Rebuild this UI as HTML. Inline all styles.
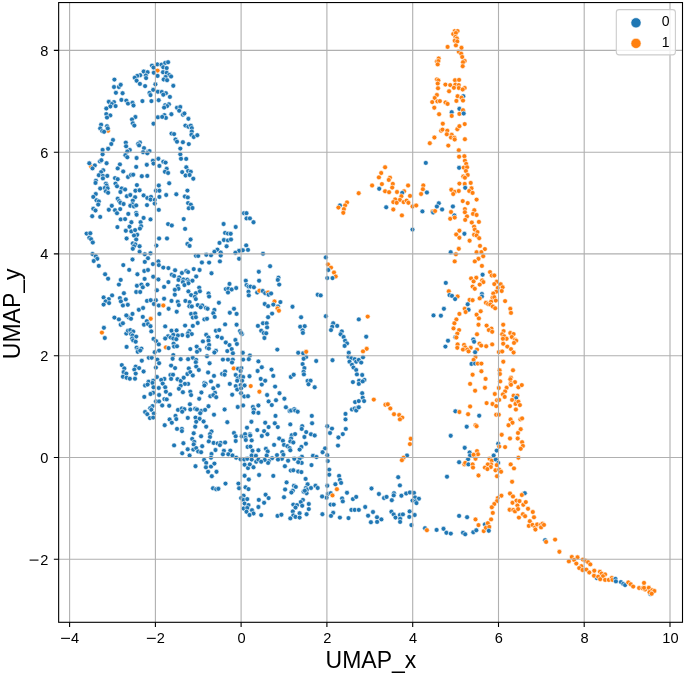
<!DOCTYPE html><html><head><meta charset="utf-8"><style>html,body{margin:0;padding:0;background:#fff;}svg{display:block;will-change:transform;}text{font-family:"Liberation Sans",sans-serif;fill:#000;}</style></head><body>
<svg width="685" height="676" viewBox="0 0 685 676">
<rect width="685" height="676" fill="#fff"/>
<g fill="#ff7f0e" stroke="#fff" stroke-width="0.6"><circle cx="108.1" cy="130.7" r="2.45"/><circle cx="91.1" cy="166.6" r="2.45"/><circle cx="165.9" cy="347.4" r="2.45"/></g>
<g fill="#1f77b4" stroke="#fff" stroke-width="0.6"><circle cx="152.0" cy="65.6" r="2.45"/><circle cx="157.3" cy="64.4" r="2.45"/><circle cx="153.5" cy="67.6" r="2.45"/></g>
<g fill="#ff7f0e" stroke="#fff" stroke-width="0.6"><circle cx="157.6" cy="70.6" r="2.45"/></g>
<g fill="#1f77b4" stroke="#fff" stroke-width="0.6"><circle cx="153.8" cy="72.7" r="2.45"/><circle cx="157.6" cy="75.9" r="2.45"/><circle cx="143.7" cy="71.5" r="2.45"/><circle cx="147.6" cy="72.2" r="2.45"/><circle cx="145.8" cy="75.5" r="2.45"/><circle cx="146.1" cy="78.1" r="2.45"/><circle cx="140.2" cy="75.2" r="2.45"/><circle cx="137.2" cy="75.9" r="2.45"/><circle cx="134.7" cy="77.7" r="2.45"/><circle cx="136.6" cy="80.7" r="2.45"/><circle cx="139.9" cy="83.9" r="2.45"/><circle cx="145.1" cy="86.1" r="2.45"/><circle cx="155.4" cy="84.3" r="2.45"/><circle cx="114.4" cy="79.6" r="2.45"/><circle cx="114.0" cy="87.0" r="2.45"/><circle cx="118.9" cy="87.0" r="2.45"/><circle cx="120.7" cy="84.8" r="2.45"/><circle cx="115.9" cy="92.8" r="2.45"/><circle cx="122.6" cy="93.2" r="2.45"/><circle cx="149.5" cy="92.9" r="2.45"/><circle cx="153.2" cy="89.8" r="2.45"/><circle cx="150.5" cy="95.1" r="2.45"/><circle cx="157.9" cy="91.7" r="2.45"/><circle cx="121.4" cy="99.9" r="2.45"/><circle cx="126.3" cy="100.6" r="2.45"/><circle cx="128.0" cy="103.6" r="2.45"/><circle cx="132.5" cy="102.8" r="2.45"/><circle cx="133.5" cy="105.5" r="2.45"/><circle cx="142.4" cy="101.1" r="2.45"/><circle cx="151.4" cy="101.1" r="2.45"/><circle cx="158.7" cy="100.2" r="2.45"/><circle cx="108.8" cy="101.8" r="2.45"/><circle cx="114.0" cy="102.1" r="2.45"/><circle cx="111.8" cy="104.0" r="2.45"/><circle cx="110.3" cy="106.5" r="2.45"/><circle cx="115.6" cy="106.1" r="2.45"/><circle cx="106.3" cy="108.5" r="2.45"/><circle cx="106.3" cy="114.1" r="2.45"/><circle cx="110.3" cy="115.4" r="2.45"/><circle cx="107.0" cy="117.6" r="2.45"/><circle cx="135.4" cy="117.0" r="2.45"/><circle cx="132.0" cy="119.4" r="2.45"/><circle cx="157.9" cy="117.3" r="2.45"/><circle cx="161.5" cy="64.7" r="2.45"/><circle cx="165.2" cy="62.9" r="2.45"/><circle cx="168.1" cy="62.2" r="2.45"/><circle cx="163.3" cy="67.3" r="2.45"/><circle cx="166.7" cy="68.1" r="2.45"/><circle cx="163.0" cy="72.2" r="2.45"/><circle cx="166.7" cy="72.8" r="2.45"/><circle cx="169.2" cy="75.0" r="2.45"/><circle cx="171.1" cy="76.5" r="2.45"/><circle cx="165.6" cy="77.0" r="2.45"/><circle cx="163.7" cy="79.5" r="2.45"/><circle cx="167.1" cy="80.2" r="2.45"/><circle cx="173.3" cy="85.8" r="2.45"/><circle cx="161.8" cy="92.0" r="2.45"/><circle cx="165.9" cy="93.2" r="2.45"/><circle cx="163.3" cy="94.7" r="2.45"/><circle cx="169.9" cy="96.9" r="2.45"/><circle cx="165.2" cy="105.1" r="2.45"/><circle cx="168.9" cy="104.3" r="2.45"/><circle cx="167.1" cy="106.1" r="2.45"/><circle cx="164.1" cy="107.6" r="2.45"/><circle cx="177.0" cy="107.7" r="2.45"/><circle cx="180.3" cy="107.0" r="2.45"/><circle cx="179.2" cy="110.7" r="2.45"/><circle cx="171.4" cy="114.2" r="2.45"/><circle cx="164.4" cy="115.1" r="2.45"/><circle cx="165.9" cy="117.9" r="2.45"/><circle cx="162.2" cy="116.9" r="2.45"/><circle cx="182.9" cy="114.7" r="2.45"/><circle cx="184.4" cy="113.5" r="2.45"/><circle cx="188.4" cy="118.8" r="2.45"/></g>
<g fill="#ff7f0e" stroke="#fff" stroke-width="0.6"><circle cx="454.7" cy="31.1" r="2.45"/><circle cx="457.6" cy="31.1" r="2.45"/><circle cx="453.2" cy="34.1" r="2.45"/><circle cx="455.9" cy="33.0" r="2.45"/><circle cx="455.4" cy="37.0" r="2.45"/><circle cx="456.9" cy="38.5" r="2.45"/><circle cx="454.7" cy="40.7" r="2.45"/><circle cx="457.3" cy="41.4" r="2.45"/><circle cx="455.9" cy="45.4" r="2.45"/><circle cx="447.6" cy="46.9" r="2.45"/><circle cx="458.8" cy="51.8" r="2.45"/><circle cx="438.7" cy="58.5" r="2.45"/><circle cx="436.9" cy="61.4" r="2.45"/><circle cx="438.4" cy="61.1" r="2.45"/><circle cx="437.7" cy="64.4" r="2.45"/><circle cx="436.9" cy="79.5" r="2.45"/><circle cx="438.4" cy="80.4" r="2.45"/><circle cx="437.7" cy="83.6" r="2.45"/><circle cx="438.0" cy="88.3" r="2.45"/><circle cx="445.4" cy="84.6" r="2.45"/><circle cx="450.2" cy="85.1" r="2.45"/><circle cx="455.0" cy="80.2" r="2.45"/><circle cx="459.1" cy="79.9" r="2.45"/><circle cx="455.4" cy="84.6" r="2.45"/><circle cx="458.8" cy="85.1" r="2.45"/><circle cx="453.9" cy="87.8" r="2.45"/><circle cx="458.8" cy="88.0" r="2.45"/><circle cx="449.1" cy="91.3" r="2.45"/><circle cx="436.9" cy="95.0" r="2.45"/><circle cx="434.7" cy="98.0" r="2.45"/><circle cx="432.2" cy="102.1" r="2.45"/><circle cx="437.4" cy="101.4" r="2.45"/><circle cx="439.9" cy="101.1" r="2.45"/><circle cx="445.5" cy="102.5" r="2.45"/><circle cx="447.6" cy="103.9" r="2.45"/><circle cx="457.6" cy="96.2" r="2.45"/><circle cx="456.4" cy="100.9" r="2.45"/><circle cx="434.3" cy="107.7" r="2.45"/><circle cx="439.1" cy="114.2" r="2.45"/></g>
<g fill="#1f77b4" stroke="#fff" stroke-width="0.6"><circle cx="451.7" cy="112.2" r="2.45"/></g>
<g fill="#ff7f0e" stroke="#fff" stroke-width="0.6"><circle cx="451.7" cy="115.9" r="2.45"/></g>
<g fill="#1f77b4" stroke="#fff" stroke-width="0.6"><circle cx="459.4" cy="108.8" r="2.45"/></g>
<g fill="#ff7f0e" stroke="#fff" stroke-width="0.6"><circle cx="459.4" cy="113.9" r="2.45"/><circle cx="461.5" cy="47.8" r="2.45"/><circle cx="461.2" cy="53.7" r="2.45"/><circle cx="462.2" cy="57.0" r="2.45"/><circle cx="464.7" cy="61.0" r="2.45"/><circle cx="463.0" cy="62.2" r="2.45"/><circle cx="462.7" cy="66.2" r="2.45"/><circle cx="464.7" cy="88.0" r="2.45"/><circle cx="462.7" cy="89.5" r="2.45"/></g>
<g fill="#1f77b4" stroke="#fff" stroke-width="0.6"><circle cx="463.3" cy="96.2" r="2.45"/></g>
<g fill="#ff7f0e" stroke="#fff" stroke-width="0.6"><circle cx="461.5" cy="97.7" r="2.45"/><circle cx="463.0" cy="100.6" r="2.45"/><circle cx="463.0" cy="110.2" r="2.45"/></g>
<g fill="#1f77b4" stroke="#fff" stroke-width="0.6"><circle cx="463.7" cy="113.5" r="2.45"/><circle cx="101.1" cy="124.7" r="2.45"/><circle cx="107.0" cy="126.2" r="2.45"/><circle cx="100.2" cy="128.4" r="2.45"/><circle cx="107.8" cy="128.4" r="2.45"/><circle cx="102.2" cy="131.1" r="2.45"/><circle cx="104.1" cy="131.8" r="2.45"/><circle cx="132.8" cy="123.3" r="2.45"/><circle cx="134.3" cy="125.6" r="2.45"/><circle cx="153.5" cy="123.7" r="2.45"/><circle cx="113.0" cy="140.0" r="2.45"/><circle cx="111.3" cy="144.0" r="2.45"/><circle cx="108.1" cy="148.8" r="2.45"/><circle cx="102.6" cy="149.9" r="2.45"/><circle cx="102.6" cy="154.3" r="2.45"/><circle cx="125.8" cy="142.6" r="2.45"/><circle cx="126.1" cy="146.3" r="2.45"/><circle cx="129.8" cy="150.0" r="2.45"/><circle cx="127.3" cy="151.5" r="2.45"/><circle cx="139.9" cy="142.5" r="2.45"/><circle cx="138.1" cy="144.0" r="2.45"/><circle cx="139.1" cy="145.4" r="2.45"/><circle cx="144.0" cy="148.1" r="2.45"/><circle cx="143.1" cy="152.2" r="2.45"/><circle cx="148.0" cy="151.8" r="2.45"/><circle cx="149.5" cy="151.1" r="2.45"/><circle cx="147.3" cy="153.3" r="2.45"/><circle cx="125.4" cy="155.2" r="2.45"/><circle cx="127.3" cy="157.3" r="2.45"/><circle cx="136.6" cy="158.0" r="2.45"/><circle cx="89.3" cy="163.3" r="2.45"/><circle cx="94.8" cy="165.4" r="2.45"/><circle cx="92.5" cy="168.4" r="2.45"/><circle cx="99.9" cy="161.4" r="2.45"/><circle cx="101.4" cy="160.2" r="2.45"/><circle cx="106.6" cy="163.2" r="2.45"/><circle cx="119.9" cy="164.4" r="2.45"/><circle cx="117.7" cy="168.4" r="2.45"/><circle cx="136.2" cy="166.9" r="2.45"/><circle cx="146.8" cy="164.8" r="2.45"/><circle cx="152.9" cy="160.7" r="2.45"/><circle cx="153.5" cy="163.6" r="2.45"/><circle cx="158.4" cy="158.8" r="2.45"/><circle cx="159.4" cy="165.9" r="2.45"/><circle cx="103.2" cy="170.3" r="2.45"/><circle cx="101.1" cy="172.1" r="2.45"/><circle cx="123.2" cy="171.5" r="2.45"/><circle cx="98.8" cy="175.2" r="2.45"/><circle cx="102.9" cy="175.9" r="2.45"/><circle cx="107.3" cy="175.9" r="2.45"/><circle cx="102.9" cy="178.4" r="2.45"/><circle cx="115.0" cy="178.1" r="2.45"/><circle cx="117.7" cy="179.2" r="2.45"/><circle cx="128.0" cy="177.0" r="2.45"/><circle cx="131.0" cy="175.0" r="2.45"/><circle cx="133.2" cy="174.7" r="2.45"/><circle cx="141.8" cy="176.2" r="2.45"/><circle cx="147.3" cy="175.9" r="2.45"/><circle cx="95.9" cy="180.7" r="2.45"/><circle cx="95.5" cy="182.9" r="2.45"/><circle cx="105.9" cy="183.6" r="2.45"/><circle cx="106.6" cy="185.5" r="2.45"/><circle cx="115.5" cy="183.6" r="2.45"/><circle cx="117.0" cy="186.3" r="2.45"/><circle cx="104.8" cy="188.0" r="2.45"/><circle cx="107.6" cy="188.3" r="2.45"/><circle cx="100.2" cy="188.5" r="2.45"/><circle cx="136.9" cy="185.1" r="2.45"/><circle cx="121.7" cy="188.5" r="2.45"/><circle cx="125.1" cy="189.5" r="2.45"/><circle cx="120.4" cy="192.0" r="2.45"/><circle cx="135.4" cy="190.7" r="2.45"/><circle cx="139.6" cy="190.3" r="2.45"/><circle cx="158.8" cy="185.5" r="2.45"/><circle cx="155.9" cy="190.7" r="2.45"/><circle cx="159.4" cy="190.7" r="2.45"/><circle cx="105.9" cy="191.3" r="2.45"/><circle cx="108.1" cy="192.8" r="2.45"/><circle cx="95.8" cy="194.0" r="2.45"/><circle cx="93.3" cy="196.9" r="2.45"/><circle cx="96.5" cy="200.3" r="2.45"/><circle cx="98.8" cy="201.4" r="2.45"/><circle cx="98.2" cy="204.6" r="2.45"/><circle cx="126.9" cy="196.2" r="2.45"/><circle cx="130.3" cy="195.0" r="2.45"/><circle cx="135.1" cy="197.2" r="2.45"/><circle cx="143.6" cy="195.4" r="2.45"/><circle cx="147.3" cy="198.0" r="2.45"/><circle cx="151.0" cy="196.9" r="2.45"/><circle cx="150.5" cy="199.6" r="2.45"/><circle cx="154.7" cy="199.9" r="2.45"/><circle cx="159.4" cy="196.9" r="2.45"/><circle cx="117.7" cy="198.7" r="2.45"/><circle cx="119.2" cy="201.1" r="2.45"/><circle cx="120.4" cy="202.8" r="2.45"/><circle cx="123.6" cy="204.0" r="2.45"/><circle cx="132.8" cy="200.6" r="2.45"/><circle cx="132.5" cy="204.3" r="2.45"/><circle cx="130.3" cy="205.8" r="2.45"/><circle cx="134.0" cy="206.5" r="2.45"/><circle cx="136.2" cy="205.4" r="2.45"/><circle cx="147.0" cy="205.1" r="2.45"/><circle cx="154.7" cy="203.6" r="2.45"/><circle cx="111.8" cy="205.8" r="2.45"/><circle cx="108.8" cy="209.8" r="2.45"/><circle cx="115.0" cy="210.2" r="2.45"/><circle cx="117.0" cy="213.2" r="2.45"/><circle cx="120.2" cy="209.1" r="2.45"/><circle cx="93.3" cy="208.8" r="2.45"/><circle cx="95.5" cy="210.5" r="2.45"/><circle cx="158.8" cy="209.9" r="2.45"/><circle cx="92.2" cy="216.2" r="2.45"/><circle cx="100.2" cy="216.9" r="2.45"/><circle cx="128.3" cy="213.9" r="2.45"/><circle cx="136.2" cy="212.9" r="2.45"/><circle cx="136.6" cy="214.7" r="2.45"/><circle cx="143.6" cy="217.9" r="2.45"/><circle cx="120.7" cy="219.4" r="2.45"/><circle cx="125.1" cy="219.1" r="2.45"/><circle cx="150.5" cy="219.4" r="2.45"/><circle cx="185.4" cy="125.6" r="2.45"/><circle cx="188.4" cy="126.7" r="2.45"/><circle cx="190.8" cy="125.6" r="2.45"/><circle cx="191.8" cy="128.1" r="2.45"/><circle cx="191.8" cy="131.5" r="2.45"/><circle cx="191.4" cy="134.8" r="2.45"/><circle cx="193.7" cy="137.0" r="2.45"/><circle cx="197.3" cy="135.2" r="2.45"/><circle cx="171.5" cy="133.6" r="2.45"/><circle cx="174.1" cy="134.1" r="2.45"/><circle cx="175.5" cy="139.5" r="2.45"/><circle cx="177.0" cy="141.7" r="2.45"/><circle cx="182.9" cy="142.2" r="2.45"/><circle cx="188.8" cy="144.1" r="2.45"/><circle cx="180.3" cy="148.6" r="2.45"/><circle cx="180.3" cy="154.3" r="2.45"/><circle cx="181.0" cy="158.8" r="2.45"/><circle cx="186.2" cy="158.9" r="2.45"/><circle cx="163.3" cy="161.7" r="2.45"/><circle cx="165.6" cy="162.6" r="2.45"/><circle cx="166.7" cy="168.8" r="2.45"/><circle cx="164.9" cy="171.8" r="2.45"/><circle cx="168.1" cy="173.0" r="2.45"/><circle cx="186.3" cy="167.3" r="2.45"/><circle cx="188.1" cy="171.0" r="2.45"/><circle cx="190.8" cy="171.8" r="2.45"/><circle cx="182.2" cy="172.1" r="2.45"/><circle cx="185.6" cy="175.5" r="2.45"/><circle cx="189.6" cy="175.0" r="2.45"/><circle cx="193.3" cy="178.7" r="2.45"/><circle cx="169.2" cy="183.3" r="2.45"/><circle cx="166.2" cy="195.0" r="2.45"/><circle cx="176.3" cy="194.3" r="2.45"/><circle cx="187.4" cy="190.6" r="2.45"/><circle cx="184.9" cy="196.5" r="2.45"/><circle cx="187.8" cy="197.4" r="2.45"/><circle cx="188.1" cy="203.1" r="2.45"/><circle cx="190.8" cy="204.6" r="2.45"/><circle cx="188.8" cy="208.3" r="2.45"/><circle cx="192.5" cy="208.0" r="2.45"/><circle cx="183.7" cy="219.1" r="2.45"/><circle cx="244.0" cy="213.2" r="2.45"/><circle cx="246.5" cy="213.2" r="2.45"/><circle cx="246.5" cy="218.4" r="2.45"/><circle cx="249.9" cy="218.4" r="2.45"/></g>
<g fill="#ff7f0e" stroke="#fff" stroke-width="0.6"><circle cx="358.7" cy="193.2" r="2.45"/><circle cx="347.0" cy="202.4" r="2.45"/><circle cx="345.1" cy="205.4" r="2.45"/></g>
<g fill="#1f77b4" stroke="#fff" stroke-width="0.6"><circle cx="339.9" cy="205.4" r="2.45"/></g>
<g fill="#ff7f0e" stroke="#fff" stroke-width="0.6"><circle cx="338.4" cy="207.6" r="2.45"/><circle cx="343.9" cy="209.1" r="2.45"/><circle cx="343.3" cy="212.8" r="2.45"/><circle cx="442.8" cy="123.7" r="2.45"/><circle cx="441.1" cy="130.7" r="2.45"/><circle cx="442.5" cy="129.6" r="2.45"/><circle cx="447.3" cy="130.7" r="2.45"/><circle cx="446.8" cy="134.3" r="2.45"/><circle cx="451.7" cy="134.8" r="2.45"/><circle cx="451.0" cy="137.5" r="2.45"/><circle cx="454.4" cy="137.8" r="2.45"/><circle cx="454.7" cy="139.5" r="2.45"/><circle cx="457.3" cy="129.2" r="2.45"/><circle cx="459.4" cy="126.2" r="2.45"/><circle cx="434.4" cy="137.5" r="2.45"/><circle cx="429.8" cy="143.2" r="2.45"/><circle cx="448.3" cy="145.6" r="2.45"/><circle cx="458.8" cy="150.3" r="2.45"/><circle cx="459.1" cy="156.7" r="2.45"/></g>
<g fill="#1f77b4" stroke="#fff" stroke-width="0.6"><circle cx="425.8" cy="162.9" r="2.45"/><circle cx="459.1" cy="167.8" r="2.45"/></g>
<g fill="#ff7f0e" stroke="#fff" stroke-width="0.6"><circle cx="385.1" cy="167.3" r="2.45"/><circle cx="381.2" cy="173.0" r="2.45"/><circle cx="378.9" cy="177.4" r="2.45"/><circle cx="390.0" cy="177.7" r="2.45"/><circle cx="388.8" cy="179.9" r="2.45"/><circle cx="381.9" cy="184.1" r="2.45"/><circle cx="372.1" cy="185.5" r="2.45"/><circle cx="392.8" cy="183.9" r="2.45"/><circle cx="392.2" cy="187.6" r="2.45"/></g>
<g fill="#1f77b4" stroke="#fff" stroke-width="0.6"><circle cx="379.2" cy="188.8" r="2.45"/></g>
<g fill="#ff7f0e" stroke="#fff" stroke-width="0.6"><circle cx="385.1" cy="191.3" r="2.45"/><circle cx="389.1" cy="192.2" r="2.45"/><circle cx="397.0" cy="192.0" r="2.45"/><circle cx="404.1" cy="191.3" r="2.45"/></g>
<g fill="#1f77b4" stroke="#fff" stroke-width="0.6"><circle cx="402.2" cy="192.9" r="2.45"/></g>
<g fill="#ff7f0e" stroke="#fff" stroke-width="0.6"><circle cx="408.1" cy="185.5" r="2.45"/><circle cx="410.0" cy="195.9" r="2.45"/><circle cx="401.4" cy="196.2" r="2.45"/><circle cx="399.9" cy="199.9" r="2.45"/><circle cx="395.2" cy="199.4" r="2.45"/><circle cx="393.3" cy="202.1" r="2.45"/><circle cx="396.7" cy="202.8" r="2.45"/><circle cx="403.6" cy="202.1" r="2.45"/><circle cx="406.6" cy="200.6" r="2.45"/><circle cx="408.4" cy="202.8" r="2.45"/><circle cx="423.3" cy="185.4" r="2.45"/><circle cx="422.9" cy="189.2" r="2.45"/><circle cx="421.1" cy="194.0" r="2.45"/></g>
<g fill="#1f77b4" stroke="#fff" stroke-width="0.6"><circle cx="426.9" cy="192.5" r="2.45"/></g>
<g fill="#ff7f0e" stroke="#fff" stroke-width="0.6"><circle cx="459.4" cy="183.6" r="2.45"/><circle cx="451.3" cy="189.8" r="2.45"/><circle cx="454.7" cy="192.0" r="2.45"/><circle cx="453.2" cy="194.0" r="2.45"/><circle cx="458.8" cy="191.0" r="2.45"/><circle cx="412.5" cy="206.5" r="2.45"/><circle cx="416.2" cy="205.5" r="2.45"/></g>
<g fill="#1f77b4" stroke="#fff" stroke-width="0.6"><circle cx="386.2" cy="207.3" r="2.45"/></g>
<g fill="#ff7f0e" stroke="#fff" stroke-width="0.6"><circle cx="393.3" cy="209.5" r="2.45"/><circle cx="401.9" cy="215.4" r="2.45"/></g>
<g fill="#1f77b4" stroke="#fff" stroke-width="0.6"><circle cx="422.4" cy="211.4" r="2.45"/></g>
<g fill="#ff7f0e" stroke="#fff" stroke-width="0.6"><circle cx="432.5" cy="211.4" r="2.45"/></g>
<g fill="#1f77b4" stroke="#fff" stroke-width="0.6"><circle cx="433.2" cy="212.5" r="2.45"/></g>
<g fill="#ff7f0e" stroke="#fff" stroke-width="0.6"><circle cx="435.1" cy="211.0" r="2.45"/></g>
<g fill="#1f77b4" stroke="#fff" stroke-width="0.6"><circle cx="438.8" cy="203.3" r="2.45"/><circle cx="436.9" cy="206.5" r="2.45"/><circle cx="442.1" cy="209.5" r="2.45"/><circle cx="452.9" cy="206.5" r="2.45"/></g>
<g fill="#ff7f0e" stroke="#fff" stroke-width="0.6"><circle cx="451.0" cy="212.0" r="2.45"/></g>
<g fill="#1f77b4" stroke="#fff" stroke-width="0.6"><circle cx="454.4" cy="215.4" r="2.45"/></g>
<g fill="#ff7f0e" stroke="#fff" stroke-width="0.6"><circle cx="450.2" cy="218.8" r="2.45"/><circle cx="454.7" cy="217.6" r="2.45"/><circle cx="464.7" cy="124.1" r="2.45"/><circle cx="464.9" cy="139.2" r="2.45"/><circle cx="464.4" cy="156.2" r="2.45"/><circle cx="464.9" cy="160.7" r="2.45"/><circle cx="466.2" cy="163.9" r="2.45"/><circle cx="463.7" cy="167.6" r="2.45"/><circle cx="467.1" cy="167.3" r="2.45"/><circle cx="465.9" cy="171.0" r="2.45"/><circle cx="467.7" cy="175.0" r="2.45"/><circle cx="463.3" cy="176.5" r="2.45"/><circle cx="464.9" cy="177.7" r="2.45"/><circle cx="470.7" cy="182.9" r="2.45"/><circle cx="464.7" cy="183.9" r="2.45"/></g>
<g fill="#1f77b4" stroke="#fff" stroke-width="0.6"><circle cx="465.2" cy="187.8" r="2.45"/></g>
<g fill="#ff7f0e" stroke="#fff" stroke-width="0.6"><circle cx="471.5" cy="188.3" r="2.45"/><circle cx="469.2" cy="191.0" r="2.45"/><circle cx="472.6" cy="192.9" r="2.45"/><circle cx="476.6" cy="199.6" r="2.45"/><circle cx="462.7" cy="201.1" r="2.45"/><circle cx="467.7" cy="203.1" r="2.45"/><circle cx="464.9" cy="209.1" r="2.45"/><circle cx="474.3" cy="210.2" r="2.45"/><circle cx="464.9" cy="212.2" r="2.45"/><circle cx="473.0" cy="213.9" r="2.45"/><circle cx="476.6" cy="215.0" r="2.45"/><circle cx="467.0" cy="216.4" r="2.45"/><circle cx="465.2" cy="219.9" r="2.45"/></g>
<g fill="#1f77b4" stroke="#fff" stroke-width="0.6"><circle cx="131.4" cy="222.2" r="2.45"/><circle cx="140.6" cy="222.2" r="2.45"/><circle cx="117.4" cy="227.1" r="2.45"/><circle cx="129.5" cy="226.7" r="2.45"/><circle cx="141.1" cy="226.2" r="2.45"/><circle cx="139.9" cy="228.6" r="2.45"/><circle cx="125.8" cy="230.8" r="2.45"/><circle cx="131.3" cy="231.4" r="2.45"/><circle cx="135.1" cy="230.1" r="2.45"/><circle cx="137.2" cy="234.8" r="2.45"/><circle cx="134.0" cy="235.5" r="2.45"/><circle cx="136.2" cy="239.5" r="2.45"/><circle cx="126.6" cy="238.5" r="2.45"/><circle cx="86.6" cy="233.6" r="2.45"/><circle cx="90.3" cy="233.3" r="2.45"/><circle cx="89.3" cy="237.8" r="2.45"/><circle cx="91.1" cy="239.2" r="2.45"/><circle cx="92.8" cy="242.5" r="2.45"/><circle cx="159.1" cy="238.5" r="2.45"/><circle cx="132.8" cy="243.4" r="2.45"/><circle cx="135.4" cy="244.4" r="2.45"/><circle cx="134.0" cy="246.3" r="2.45"/><circle cx="139.6" cy="246.3" r="2.45"/><circle cx="132.8" cy="248.8" r="2.45"/><circle cx="156.4" cy="245.6" r="2.45"/><circle cx="139.6" cy="251.8" r="2.45"/><circle cx="144.8" cy="254.3" r="2.45"/><circle cx="150.5" cy="253.3" r="2.45"/><circle cx="92.5" cy="254.0" r="2.45"/><circle cx="95.8" cy="256.2" r="2.45"/><circle cx="97.3" cy="258.8" r="2.45"/><circle cx="93.7" cy="261.0" r="2.45"/><circle cx="98.8" cy="265.9" r="2.45"/><circle cx="132.5" cy="259.5" r="2.45"/><circle cx="148.0" cy="258.2" r="2.45"/><circle cx="144.8" cy="261.9" r="2.45"/><circle cx="152.9" cy="264.1" r="2.45"/><circle cx="158.4" cy="261.4" r="2.45"/><circle cx="158.8" cy="265.1" r="2.45"/><circle cx="123.3" cy="265.1" r="2.45"/><circle cx="129.2" cy="269.9" r="2.45"/><circle cx="144.3" cy="271.0" r="2.45"/><circle cx="148.0" cy="270.0" r="2.45"/><circle cx="105.1" cy="274.3" r="2.45"/><circle cx="108.1" cy="278.7" r="2.45"/><circle cx="137.4" cy="274.3" r="2.45"/><circle cx="153.2" cy="276.7" r="2.45"/><circle cx="158.4" cy="279.5" r="2.45"/><circle cx="144.6" cy="278.9" r="2.45"/><circle cx="120.7" cy="279.9" r="2.45"/><circle cx="118.9" cy="284.6" r="2.45"/><circle cx="136.9" cy="285.8" r="2.45"/><circle cx="141.4" cy="284.6" r="2.45"/><circle cx="142.8" cy="287.3" r="2.45"/><circle cx="147.6" cy="284.6" r="2.45"/><circle cx="136.2" cy="292.0" r="2.45"/><circle cx="140.2" cy="292.0" r="2.45"/><circle cx="156.9" cy="290.3" r="2.45"/><circle cx="123.9" cy="293.2" r="2.45"/><circle cx="112.1" cy="295.4" r="2.45"/><circle cx="103.6" cy="297.4" r="2.45"/><circle cx="108.8" cy="299.1" r="2.45"/><circle cx="105.6" cy="301.4" r="2.45"/><circle cx="109.1" cy="303.1" r="2.45"/><circle cx="103.6" cy="304.6" r="2.45"/><circle cx="119.9" cy="298.1" r="2.45"/><circle cx="125.8" cy="299.4" r="2.45"/><circle cx="120.9" cy="301.4" r="2.45"/><circle cx="122.9" cy="305.5" r="2.45"/><circle cx="127.8" cy="304.8" r="2.45"/><circle cx="147.0" cy="300.9" r="2.45"/><circle cx="150.7" cy="300.2" r="2.45"/><circle cx="155.9" cy="300.2" r="2.45"/><circle cx="153.9" cy="304.0" r="2.45"/><circle cx="158.8" cy="305.5" r="2.45"/><circle cx="138.8" cy="309.8" r="2.45"/><circle cx="143.1" cy="308.0" r="2.45"/><circle cx="159.4" cy="313.9" r="2.45"/><circle cx="132.5" cy="313.9" r="2.45"/><circle cx="127.3" cy="316.2" r="2.45"/><circle cx="128.8" cy="317.6" r="2.45"/><circle cx="126.3" cy="315.4" r="2.45"/><circle cx="114.4" cy="317.6" r="2.45"/><circle cx="118.9" cy="319.4" r="2.45"/><circle cx="131.0" cy="318.8" r="2.45"/><circle cx="142.8" cy="316.9" r="2.45"/></g>
<g fill="#ff7f0e" stroke="#fff" stroke-width="0.6"><circle cx="150.7" cy="318.8" r="2.45"/></g>
<g fill="#1f77b4" stroke="#fff" stroke-width="0.6"><circle cx="168.1" cy="224.1" r="2.45"/><circle cx="171.8" cy="225.5" r="2.45"/><circle cx="185.1" cy="228.9" r="2.45"/><circle cx="223.6" cy="224.0" r="2.45"/><circle cx="235.7" cy="227.0" r="2.45"/><circle cx="253.5" cy="222.2" r="2.45"/><circle cx="167.0" cy="238.5" r="2.45"/><circle cx="190.6" cy="239.5" r="2.45"/><circle cx="187.4" cy="244.0" r="2.45"/><circle cx="189.6" cy="245.9" r="2.45"/><circle cx="225.1" cy="232.9" r="2.45"/><circle cx="228.0" cy="233.6" r="2.45"/><circle cx="230.7" cy="233.8" r="2.45"/><circle cx="223.9" cy="240.0" r="2.45"/><circle cx="228.0" cy="240.4" r="2.45"/><circle cx="231.0" cy="239.5" r="2.45"/><circle cx="219.5" cy="242.9" r="2.45"/><circle cx="226.6" cy="246.3" r="2.45"/><circle cx="246.2" cy="245.4" r="2.45"/><circle cx="248.0" cy="249.9" r="2.45"/><circle cx="242.8" cy="250.3" r="2.45"/><circle cx="239.1" cy="250.8" r="2.45"/><circle cx="235.4" cy="252.8" r="2.45"/><circle cx="239.1" cy="258.8" r="2.45"/><circle cx="217.4" cy="249.6" r="2.45"/><circle cx="214.4" cy="251.8" r="2.45"/><circle cx="220.7" cy="252.5" r="2.45"/><circle cx="220.7" cy="255.5" r="2.45"/><circle cx="211.0" cy="255.2" r="2.45"/><circle cx="206.3" cy="254.8" r="2.45"/><circle cx="195.9" cy="255.8" r="2.45"/><circle cx="198.2" cy="255.9" r="2.45"/><circle cx="201.9" cy="262.5" r="2.45"/><circle cx="209.1" cy="262.6" r="2.45"/><circle cx="219.9" cy="261.4" r="2.45"/><circle cx="211.5" cy="273.3" r="2.45"/><circle cx="163.3" cy="267.6" r="2.45"/><circle cx="168.4" cy="268.1" r="2.45"/><circle cx="175.1" cy="270.3" r="2.45"/><circle cx="171.8" cy="274.7" r="2.45"/><circle cx="174.1" cy="275.9" r="2.45"/><circle cx="181.9" cy="273.0" r="2.45"/><circle cx="186.3" cy="271.0" r="2.45"/><circle cx="188.1" cy="272.1" r="2.45"/><circle cx="193.7" cy="269.1" r="2.45"/><circle cx="199.6" cy="270.0" r="2.45"/><circle cx="196.2" cy="276.5" r="2.45"/><circle cx="179.2" cy="277.4" r="2.45"/><circle cx="178.5" cy="279.9" r="2.45"/><circle cx="183.4" cy="279.5" r="2.45"/><circle cx="182.9" cy="282.1" r="2.45"/><circle cx="187.4" cy="279.6" r="2.45"/><circle cx="188.8" cy="281.4" r="2.45"/><circle cx="192.5" cy="280.7" r="2.45"/><circle cx="188.4" cy="283.3" r="2.45"/><circle cx="184.4" cy="285.1" r="2.45"/><circle cx="168.4" cy="282.1" r="2.45"/><circle cx="164.1" cy="286.9" r="2.45"/><circle cx="177.8" cy="286.1" r="2.45"/><circle cx="178.5" cy="288.8" r="2.45"/><circle cx="174.8" cy="289.8" r="2.45"/><circle cx="174.8" cy="294.7" r="2.45"/><circle cx="188.4" cy="291.4" r="2.45"/><circle cx="191.1" cy="295.1" r="2.45"/><circle cx="195.9" cy="293.2" r="2.45"/><circle cx="199.2" cy="287.6" r="2.45"/><circle cx="199.9" cy="291.3" r="2.45"/><circle cx="194.8" cy="296.9" r="2.45"/><circle cx="195.8" cy="299.1" r="2.45"/><circle cx="208.5" cy="293.5" r="2.45"/><circle cx="209.1" cy="296.5" r="2.45"/><circle cx="229.5" cy="283.9" r="2.45"/><circle cx="225.8" cy="289.1" r="2.45"/><circle cx="228.3" cy="288.8" r="2.45"/><circle cx="231.7" cy="289.5" r="2.45"/><circle cx="228.0" cy="292.5" r="2.45"/><circle cx="236.2" cy="288.0" r="2.45"/><circle cx="164.1" cy="298.7" r="2.45"/><circle cx="171.5" cy="300.9" r="2.45"/></g>
<g fill="#ff7f0e" stroke="#fff" stroke-width="0.6"><circle cx="163.3" cy="305.5" r="2.45"/></g>
<g fill="#1f77b4" stroke="#fff" stroke-width="0.6"><circle cx="177.8" cy="301.8" r="2.45"/><circle cx="178.8" cy="305.1" r="2.45"/><circle cx="185.4" cy="300.9" r="2.45"/><circle cx="189.6" cy="302.1" r="2.45"/><circle cx="189.3" cy="306.2" r="2.45"/><circle cx="191.8" cy="306.5" r="2.45"/><circle cx="197.7" cy="305.1" r="2.45"/><circle cx="202.2" cy="305.5" r="2.45"/><circle cx="200.7" cy="307.3" r="2.45"/><circle cx="205.9" cy="308.0" r="2.45"/><circle cx="207.6" cy="308.8" r="2.45"/><circle cx="218.9" cy="302.8" r="2.45"/><circle cx="168.6" cy="308.8" r="2.45"/><circle cx="176.7" cy="311.7" r="2.45"/><circle cx="191.1" cy="313.9" r="2.45"/><circle cx="195.2" cy="313.5" r="2.45"/><circle cx="192.8" cy="317.6" r="2.45"/><circle cx="195.9" cy="317.2" r="2.45"/><circle cx="214.4" cy="309.9" r="2.45"/><circle cx="213.3" cy="313.2" r="2.45"/><circle cx="214.7" cy="316.9" r="2.45"/><circle cx="229.8" cy="312.8" r="2.45"/><circle cx="234.0" cy="308.8" r="2.45"/><circle cx="236.6" cy="313.9" r="2.45"/><circle cx="204.4" cy="319.4" r="2.45"/><circle cx="207.0" cy="318.8" r="2.45"/><circle cx="245.8" cy="280.7" r="2.45"/><circle cx="246.5" cy="285.1" r="2.45"/><circle cx="248.5" cy="286.6" r="2.45"/><circle cx="250.5" cy="286.6" r="2.45"/><circle cx="253.9" cy="287.3" r="2.45"/><circle cx="248.5" cy="291.7" r="2.45"/><circle cx="248.8" cy="295.4" r="2.45"/><circle cx="257.2" cy="292.5" r="2.45"/><circle cx="258.8" cy="271.8" r="2.45"/><circle cx="259.1" cy="280.7" r="2.45"/></g>
<g fill="#ff7f0e" stroke="#fff" stroke-width="0.6"><circle cx="259.4" cy="290.7" r="2.45"/></g>
<g fill="#1f77b4" stroke="#fff" stroke-width="0.6"><circle cx="263.0" cy="253.7" r="2.45"/><circle cx="270.1" cy="266.2" r="2.45"/><circle cx="278.5" cy="277.7" r="2.45"/><circle cx="277.8" cy="279.9" r="2.45"/><circle cx="279.2" cy="284.6" r="2.45"/><circle cx="262.7" cy="291.0" r="2.45"/><circle cx="265.2" cy="293.2" r="2.45"/></g>
<g fill="#ff7f0e" stroke="#fff" stroke-width="0.6"><circle cx="268.1" cy="292.5" r="2.45"/></g>
<g fill="#1f77b4" stroke="#fff" stroke-width="0.6"><circle cx="268.6" cy="294.7" r="2.45"/><circle cx="271.1" cy="293.5" r="2.45"/></g>
<g fill="#ff7f0e" stroke="#fff" stroke-width="0.6"><circle cx="274.5" cy="301.4" r="2.45"/></g>
<g fill="#1f77b4" stroke="#fff" stroke-width="0.6"><circle cx="280.4" cy="302.1" r="2.45"/><circle cx="264.7" cy="304.0" r="2.45"/><circle cx="268.1" cy="306.2" r="2.45"/><circle cx="273.3" cy="304.6" r="2.45"/><circle cx="278.0" cy="306.5" r="2.45"/></g>
<g fill="#ff7f0e" stroke="#fff" stroke-width="0.6"><circle cx="277.5" cy="308.5" r="2.45"/><circle cx="278.9" cy="310.7" r="2.45"/></g>
<g fill="#1f77b4" stroke="#fff" stroke-width="0.6"><circle cx="292.5" cy="306.8" r="2.45"/><circle cx="272.1" cy="313.6" r="2.45"/><circle cx="268.1" cy="317.2" r="2.45"/><circle cx="301.1" cy="317.3" r="2.45"/><circle cx="325.8" cy="257.4" r="2.45"/></g>
<g fill="#ff7f0e" stroke="#fff" stroke-width="0.6"><circle cx="328.0" cy="264.4" r="2.45"/><circle cx="331.0" cy="267.6" r="2.45"/></g>
<g fill="#1f77b4" stroke="#fff" stroke-width="0.6"><circle cx="328.3" cy="270.0" r="2.45"/></g>
<g fill="#ff7f0e" stroke="#fff" stroke-width="0.6"><circle cx="334.0" cy="272.5" r="2.45"/><circle cx="335.7" cy="276.5" r="2.45"/></g>
<g fill="#1f77b4" stroke="#fff" stroke-width="0.6"><circle cx="327.3" cy="278.1" r="2.45"/><circle cx="332.5" cy="278.1" r="2.45"/><circle cx="317.7" cy="294.7" r="2.45"/><circle cx="320.7" cy="295.4" r="2.45"/><circle cx="325.8" cy="316.2" r="2.45"/><circle cx="358.8" cy="319.4" r="2.45"/><circle cx="412.5" cy="229.6" r="2.45"/></g>
<g fill="#ff7f0e" stroke="#fff" stroke-width="0.6"><circle cx="459.4" cy="230.7" r="2.45"/><circle cx="456.2" cy="234.5" r="2.45"/><circle cx="459.4" cy="237.8" r="2.45"/><circle cx="458.8" cy="248.8" r="2.45"/></g>
<g fill="#1f77b4" stroke="#fff" stroke-width="0.6"><circle cx="450.7" cy="252.2" r="2.45"/></g>
<g fill="#ff7f0e" stroke="#fff" stroke-width="0.6"><circle cx="455.9" cy="254.3" r="2.45"/><circle cx="454.7" cy="261.4" r="2.45"/></g>
<g fill="#1f77b4" stroke="#fff" stroke-width="0.6"><circle cx="445.8" cy="282.9" r="2.45"/></g>
<g fill="#ff7f0e" stroke="#fff" stroke-width="0.6"><circle cx="448.8" cy="291.3" r="2.45"/></g>
<g fill="#1f77b4" stroke="#fff" stroke-width="0.6"><circle cx="449.5" cy="295.1" r="2.45"/><circle cx="452.0" cy="295.9" r="2.45"/></g>
<g fill="#ff7f0e" stroke="#fff" stroke-width="0.6"><circle cx="457.6" cy="296.5" r="2.45"/></g>
<g fill="#1f77b4" stroke="#fff" stroke-width="0.6"><circle cx="455.1" cy="299.1" r="2.45"/><circle cx="443.9" cy="308.8" r="2.45"/><circle cx="433.5" cy="315.4" r="2.45"/><circle cx="440.9" cy="315.7" r="2.45"/></g>
<g fill="#ff7f0e" stroke="#fff" stroke-width="0.6"><circle cx="367.7" cy="316.6" r="2.45"/><circle cx="459.4" cy="313.9" r="2.45"/><circle cx="456.4" cy="319.4" r="2.45"/><circle cx="471.8" cy="222.5" r="2.45"/><circle cx="478.9" cy="221.9" r="2.45"/><circle cx="474.1" cy="226.7" r="2.45"/><circle cx="474.8" cy="229.6" r="2.45"/><circle cx="477.5" cy="232.1" r="2.45"/></g>
<g fill="#1f77b4" stroke="#fff" stroke-width="0.6"><circle cx="464.4" cy="233.8" r="2.45"/></g>
<g fill="#ff7f0e" stroke="#fff" stroke-width="0.6"><circle cx="474.1" cy="234.8" r="2.45"/><circle cx="476.6" cy="235.5" r="2.45"/><circle cx="479.2" cy="238.2" r="2.45"/><circle cx="469.6" cy="240.7" r="2.45"/><circle cx="480.0" cy="245.9" r="2.45"/><circle cx="484.9" cy="249.1" r="2.45"/><circle cx="476.6" cy="252.2" r="2.45"/><circle cx="481.4" cy="252.1" r="2.45"/><circle cx="483.2" cy="256.2" r="2.45"/><circle cx="478.5" cy="258.8" r="2.45"/><circle cx="474.8" cy="261.4" r="2.45"/><circle cx="481.9" cy="265.9" r="2.45"/><circle cx="490.0" cy="272.1" r="2.45"/><circle cx="491.8" cy="275.5" r="2.45"/><circle cx="494.3" cy="275.5" r="2.45"/></g>
<g fill="#1f77b4" stroke="#fff" stroke-width="0.6"><circle cx="482.6" cy="274.7" r="2.45"/></g>
<g fill="#ff7f0e" stroke="#fff" stroke-width="0.6"><circle cx="471.1" cy="278.4" r="2.45"/><circle cx="476.3" cy="277.7" r="2.45"/><circle cx="473.6" cy="281.4" r="2.45"/><circle cx="482.2" cy="280.4" r="2.45"/><circle cx="483.4" cy="282.1" r="2.45"/><circle cx="496.7" cy="281.8" r="2.45"/><circle cx="494.3" cy="284.1" r="2.45"/><circle cx="500.7" cy="284.3" r="2.45"/><circle cx="502.6" cy="287.3" r="2.45"/><circle cx="497.7" cy="288.0" r="2.45"/><circle cx="501.7" cy="291.0" r="2.45"/><circle cx="496.2" cy="291.7" r="2.45"/><circle cx="493.3" cy="293.5" r="2.45"/><circle cx="479.7" cy="284.6" r="2.45"/><circle cx="472.6" cy="286.6" r="2.45"/><circle cx="474.8" cy="288.8" r="2.45"/></g>
<g fill="#1f77b4" stroke="#fff" stroke-width="0.6"><circle cx="481.9" cy="294.0" r="2.45"/><circle cx="481.9" cy="296.5" r="2.45"/></g>
<g fill="#ff7f0e" stroke="#fff" stroke-width="0.6"><circle cx="479.7" cy="298.4" r="2.45"/><circle cx="492.5" cy="297.7" r="2.45"/><circle cx="494.3" cy="297.2" r="2.45"/><circle cx="495.8" cy="300.6" r="2.45"/><circle cx="469.6" cy="299.9" r="2.45"/><circle cx="472.6" cy="300.2" r="2.45"/></g>
<g fill="#1f77b4" stroke="#fff" stroke-width="0.6"><circle cx="467.7" cy="304.3" r="2.45"/></g>
<g fill="#ff7f0e" stroke="#fff" stroke-width="0.6"><circle cx="485.9" cy="302.8" r="2.45"/><circle cx="488.1" cy="304.0" r="2.45"/><circle cx="491.1" cy="301.7" r="2.45"/><circle cx="490.3" cy="304.6" r="2.45"/><circle cx="492.8" cy="306.5" r="2.45"/><circle cx="495.2" cy="308.3" r="2.45"/><circle cx="505.1" cy="301.1" r="2.45"/><circle cx="510.3" cy="308.8" r="2.45"/><circle cx="511.0" cy="312.9" r="2.45"/><circle cx="464.7" cy="308.8" r="2.45"/></g>
<g fill="#1f77b4" stroke="#fff" stroke-width="0.6"><circle cx="468.6" cy="309.8" r="2.45"/></g>
<g fill="#ff7f0e" stroke="#fff" stroke-width="0.6"><circle cx="465.6" cy="312.0" r="2.45"/><circle cx="480.7" cy="311.3" r="2.45"/><circle cx="476.6" cy="314.7" r="2.45"/><circle cx="478.9" cy="318.4" r="2.45"/></g>
<g fill="#1f77b4" stroke="#fff" stroke-width="0.6"><circle cx="120.7" cy="324.7" r="2.45"/><circle cx="122.9" cy="323.3" r="2.45"/><circle cx="146.8" cy="321.2" r="2.45"/><circle cx="144.0" cy="324.7" r="2.45"/><circle cx="148.0" cy="324.1" r="2.45"/><circle cx="150.5" cy="326.2" r="2.45"/><circle cx="151.3" cy="331.4" r="2.45"/><circle cx="103.9" cy="327.8" r="2.45"/></g>
<g fill="#ff7f0e" stroke="#fff" stroke-width="0.6"><circle cx="101.9" cy="332.6" r="2.45"/></g>
<g fill="#1f77b4" stroke="#fff" stroke-width="0.6"><circle cx="104.8" cy="338.0" r="2.45"/><circle cx="126.3" cy="333.6" r="2.45"/><circle cx="128.0" cy="330.7" r="2.45"/><circle cx="130.3" cy="330.1" r="2.45"/><circle cx="133.2" cy="331.5" r="2.45"/><circle cx="131.0" cy="334.1" r="2.45"/><circle cx="132.5" cy="335.5" r="2.45"/><circle cx="136.2" cy="336.6" r="2.45"/><circle cx="132.2" cy="338.5" r="2.45"/><circle cx="133.2" cy="340.4" r="2.45"/><circle cx="135.7" cy="341.7" r="2.45"/><circle cx="126.6" cy="346.9" r="2.45"/><circle cx="136.6" cy="347.7" r="2.45"/><circle cx="138.1" cy="349.6" r="2.45"/><circle cx="141.4" cy="348.6" r="2.45"/><circle cx="137.7" cy="351.8" r="2.45"/><circle cx="140.2" cy="350.6" r="2.45"/><circle cx="153.5" cy="338.9" r="2.45"/><circle cx="156.2" cy="341.2" r="2.45"/><circle cx="158.8" cy="344.4" r="2.45"/><circle cx="159.1" cy="350.6" r="2.45"/><circle cx="154.7" cy="352.2" r="2.45"/><circle cx="148.8" cy="357.7" r="2.45"/><circle cx="151.7" cy="357.7" r="2.45"/><circle cx="141.8" cy="360.7" r="2.45"/><circle cx="157.3" cy="359.6" r="2.45"/><circle cx="159.1" cy="363.2" r="2.45"/><circle cx="155.9" cy="367.6" r="2.45"/><circle cx="121.8" cy="365.1" r="2.45"/><circle cx="124.3" cy="368.4" r="2.45"/><circle cx="135.7" cy="366.6" r="2.45"/><circle cx="139.1" cy="368.1" r="2.45"/><circle cx="134.3" cy="369.6" r="2.45"/><circle cx="143.6" cy="371.5" r="2.45"/><circle cx="123.6" cy="372.1" r="2.45"/><circle cx="126.3" cy="373.6" r="2.45"/><circle cx="135.7" cy="373.6" r="2.45"/><circle cx="122.9" cy="376.7" r="2.45"/><circle cx="126.6" cy="377.7" r="2.45"/><circle cx="129.8" cy="378.7" r="2.45"/><circle cx="135.0" cy="378.7" r="2.45"/><circle cx="156.9" cy="377.0" r="2.45"/><circle cx="148.5" cy="381.8" r="2.45"/><circle cx="153.2" cy="380.7" r="2.45"/><circle cx="152.5" cy="382.9" r="2.45"/><circle cx="145.1" cy="385.5" r="2.45"/><circle cx="147.6" cy="384.6" r="2.45"/><circle cx="153.5" cy="387.3" r="2.45"/><circle cx="158.8" cy="388.0" r="2.45"/><circle cx="153.2" cy="392.8" r="2.45"/><circle cx="150.5" cy="394.0" r="2.45"/><circle cx="159.1" cy="395.0" r="2.45"/><circle cx="144.3" cy="396.9" r="2.45"/><circle cx="155.9" cy="401.4" r="2.45"/><circle cx="159.1" cy="401.4" r="2.45"/><circle cx="152.5" cy="406.1" r="2.45"/><circle cx="150.2" cy="408.3" r="2.45"/><circle cx="151.4" cy="409.8" r="2.45"/><circle cx="145.1" cy="412.0" r="2.45"/><circle cx="147.3" cy="414.2" r="2.45"/><circle cx="153.9" cy="413.5" r="2.45"/><circle cx="149.9" cy="418.1" r="2.45"/><circle cx="153.2" cy="417.6" r="2.45"/><circle cx="165.2" cy="326.4" r="2.45"/><circle cx="185.1" cy="325.6" r="2.45"/><circle cx="192.8" cy="325.9" r="2.45"/><circle cx="197.7" cy="323.0" r="2.45"/><circle cx="225.1" cy="324.4" r="2.45"/><circle cx="236.6" cy="324.7" r="2.45"/><circle cx="257.9" cy="325.9" r="2.45"/><circle cx="171.5" cy="330.7" r="2.45"/><circle cx="176.6" cy="330.4" r="2.45"/><circle cx="189.3" cy="331.1" r="2.45"/><circle cx="188.1" cy="333.3" r="2.45"/><circle cx="191.8" cy="334.1" r="2.45"/><circle cx="187.8" cy="336.0" r="2.45"/><circle cx="182.2" cy="335.1" r="2.45"/><circle cx="177.8" cy="335.5" r="2.45"/><circle cx="173.3" cy="334.8" r="2.45"/><circle cx="168.1" cy="336.3" r="2.45"/><circle cx="170.7" cy="337.5" r="2.45"/><circle cx="165.2" cy="338.5" r="2.45"/><circle cx="173.3" cy="338.5" r="2.45"/><circle cx="176.3" cy="339.2" r="2.45"/><circle cx="215.9" cy="330.7" r="2.45"/><circle cx="219.2" cy="330.1" r="2.45"/><circle cx="217.4" cy="336.6" r="2.45"/><circle cx="221.8" cy="338.0" r="2.45"/><circle cx="206.2" cy="334.8" r="2.45"/><circle cx="208.5" cy="337.5" r="2.45"/><circle cx="208.5" cy="340.7" r="2.45"/><circle cx="202.9" cy="341.4" r="2.45"/><circle cx="239.9" cy="331.1" r="2.45"/><circle cx="242.1" cy="334.1" r="2.45"/><circle cx="241.1" cy="333.0" r="2.45"/><circle cx="235.4" cy="340.0" r="2.45"/><circle cx="236.9" cy="344.0" r="2.45"/><circle cx="225.8" cy="342.5" r="2.45"/><circle cx="229.5" cy="345.1" r="2.45"/><circle cx="168.6" cy="348.1" r="2.45"/><circle cx="173.6" cy="343.7" r="2.45"/><circle cx="174.1" cy="346.6" r="2.45"/><circle cx="177.0" cy="346.3" r="2.45"/><circle cx="190.3" cy="349.1" r="2.45"/><circle cx="196.7" cy="346.6" r="2.45"/><circle cx="199.6" cy="350.0" r="2.45"/><circle cx="197.0" cy="351.8" r="2.45"/><circle cx="207.0" cy="347.7" r="2.45"/><circle cx="209.1" cy="344.9" r="2.45"/><circle cx="208.8" cy="348.6" r="2.45"/><circle cx="215.9" cy="350.8" r="2.45"/><circle cx="214.4" cy="352.5" r="2.45"/><circle cx="227.3" cy="351.1" r="2.45"/><circle cx="231.7" cy="349.1" r="2.45"/><circle cx="232.9" cy="353.3" r="2.45"/><circle cx="242.8" cy="352.8" r="2.45"/><circle cx="249.9" cy="355.5" r="2.45"/><circle cx="173.3" cy="355.1" r="2.45"/><circle cx="172.6" cy="358.8" r="2.45"/><circle cx="180.7" cy="359.2" r="2.45"/><circle cx="188.1" cy="359.2" r="2.45"/><circle cx="192.8" cy="357.7" r="2.45"/><circle cx="196.2" cy="359.9" r="2.45"/><circle cx="195.8" cy="362.2" r="2.45"/><circle cx="207.0" cy="356.2" r="2.45"/><circle cx="209.6" cy="363.3" r="2.45"/><circle cx="222.9" cy="359.6" r="2.45"/><circle cx="228.0" cy="359.6" r="2.45"/><circle cx="232.8" cy="359.6" r="2.45"/><circle cx="232.0" cy="362.5" r="2.45"/><circle cx="243.1" cy="359.6" r="2.45"/><circle cx="248.8" cy="359.2" r="2.45"/><circle cx="258.4" cy="361.4" r="2.45"/><circle cx="171.1" cy="365.6" r="2.45"/><circle cx="175.1" cy="368.1" r="2.45"/><circle cx="188.8" cy="368.4" r="2.45"/><circle cx="196.2" cy="366.6" r="2.45"/><circle cx="198.8" cy="370.0" r="2.45"/></g>
<g fill="#ff7f0e" stroke="#fff" stroke-width="0.6"><circle cx="233.7" cy="368.4" r="2.45"/></g>
<g fill="#1f77b4" stroke="#fff" stroke-width="0.6"><circle cx="238.1" cy="368.8" r="2.45"/><circle cx="241.4" cy="368.1" r="2.45"/><circle cx="240.6" cy="371.0" r="2.45"/><circle cx="257.6" cy="371.0" r="2.45"/><circle cx="187.4" cy="374.0" r="2.45"/><circle cx="190.3" cy="372.1" r="2.45"/><circle cx="192.8" cy="375.5" r="2.45"/><circle cx="208.1" cy="372.5" r="2.45"/><circle cx="214.0" cy="375.9" r="2.45"/><circle cx="222.1" cy="374.0" r="2.45"/><circle cx="225.1" cy="371.5" r="2.45"/><circle cx="224.6" cy="374.7" r="2.45"/><circle cx="170.4" cy="375.0" r="2.45"/><circle cx="173.0" cy="374.7" r="2.45"/><circle cx="171.1" cy="378.9" r="2.45"/><circle cx="164.4" cy="378.9" r="2.45"/><circle cx="161.2" cy="379.9" r="2.45"/><circle cx="162.7" cy="383.6" r="2.45"/><circle cx="177.5" cy="379.2" r="2.45"/><circle cx="180.7" cy="380.9" r="2.45"/><circle cx="183.7" cy="377.7" r="2.45"/><circle cx="235.7" cy="375.0" r="2.45"/><circle cx="238.1" cy="378.1" r="2.45"/><circle cx="240.6" cy="375.9" r="2.45"/><circle cx="243.1" cy="377.0" r="2.45"/><circle cx="237.2" cy="380.7" r="2.45"/><circle cx="242.1" cy="380.7" r="2.45"/><circle cx="249.5" cy="376.2" r="2.45"/><circle cx="188.1" cy="383.9" r="2.45"/><circle cx="184.9" cy="383.9" r="2.45"/><circle cx="180.7" cy="385.8" r="2.45"/><circle cx="178.9" cy="388.8" r="2.45"/><circle cx="204.4" cy="382.9" r="2.45"/><circle cx="205.6" cy="383.9" r="2.45"/><circle cx="204.4" cy="385.5" r="2.45"/><circle cx="211.0" cy="381.4" r="2.45"/><circle cx="218.0" cy="385.8" r="2.45"/><circle cx="213.3" cy="388.3" r="2.45"/><circle cx="229.8" cy="383.9" r="2.45"/><circle cx="235.7" cy="386.1" r="2.45"/><circle cx="240.6" cy="385.1" r="2.45"/><circle cx="244.6" cy="385.5" r="2.45"/><circle cx="237.2" cy="389.5" r="2.45"/><circle cx="241.1" cy="388.3" r="2.45"/></g>
<g fill="#ff7f0e" stroke="#fff" stroke-width="0.6"><circle cx="250.7" cy="386.1" r="2.45"/></g>
<g fill="#1f77b4" stroke="#fff" stroke-width="0.6"><circle cx="165.2" cy="387.3" r="2.45"/><circle cx="165.9" cy="391.7" r="2.45"/><circle cx="182.9" cy="392.2" r="2.45"/><circle cx="190.3" cy="391.7" r="2.45"/><circle cx="191.1" cy="395.1" r="2.45"/><circle cx="201.4" cy="392.5" r="2.45"/><circle cx="210.3" cy="396.2" r="2.45"/><circle cx="215.0" cy="392.8" r="2.45"/><circle cx="213.3" cy="395.1" r="2.45"/><circle cx="216.2" cy="397.2" r="2.45"/><circle cx="232.2" cy="394.7" r="2.45"/><circle cx="241.1" cy="393.2" r="2.45"/><circle cx="244.3" cy="396.5" r="2.45"/><circle cx="248.0" cy="396.2" r="2.45"/></g>
<g fill="#ff7f0e" stroke="#fff" stroke-width="0.6"><circle cx="259.4" cy="391.7" r="2.45"/></g>
<g fill="#1f77b4" stroke="#fff" stroke-width="0.6"><circle cx="170.1" cy="394.4" r="2.45"/><circle cx="164.4" cy="399.1" r="2.45"/><circle cx="166.7" cy="399.4" r="2.45"/><circle cx="199.2" cy="398.8" r="2.45"/><circle cx="162.2" cy="405.5" r="2.45"/><circle cx="169.2" cy="405.8" r="2.45"/><circle cx="189.9" cy="404.3" r="2.45"/><circle cx="208.5" cy="406.2" r="2.45"/><circle cx="237.7" cy="407.0" r="2.45"/><circle cx="243.1" cy="405.5" r="2.45"/><circle cx="252.9" cy="407.0" r="2.45"/><circle cx="258.4" cy="405.5" r="2.45"/><circle cx="178.0" cy="409.9" r="2.45"/><circle cx="181.9" cy="408.5" r="2.45"/><circle cx="184.4" cy="409.2" r="2.45"/><circle cx="190.3" cy="409.5" r="2.45"/><circle cx="195.2" cy="408.8" r="2.45"/><circle cx="197.0" cy="409.5" r="2.45"/><circle cx="201.4" cy="411.0" r="2.45"/><circle cx="205.1" cy="409.9" r="2.45"/><circle cx="224.6" cy="409.5" r="2.45"/><circle cx="253.9" cy="409.5" r="2.45"/><circle cx="253.5" cy="412.5" r="2.45"/><circle cx="258.4" cy="412.9" r="2.45"/><circle cx="182.2" cy="411.7" r="2.45"/><circle cx="200.2" cy="413.2" r="2.45"/><circle cx="175.5" cy="415.9" r="2.45"/><circle cx="214.0" cy="414.7" r="2.45"/><circle cx="169.6" cy="419.4" r="2.45"/><circle cx="176.3" cy="419.1" r="2.45"/><circle cx="187.8" cy="417.9" r="2.45"/><circle cx="195.5" cy="417.6" r="2.45"/><circle cx="199.6" cy="418.8" r="2.45"/><circle cx="263.0" cy="323.3" r="2.45"/><circle cx="266.7" cy="323.3" r="2.45"/><circle cx="267.1" cy="327.4" r="2.45"/><circle cx="261.2" cy="330.7" r="2.45"/><circle cx="263.7" cy="333.0" r="2.45"/><circle cx="266.2" cy="333.3" r="2.45"/><circle cx="264.4" cy="338.0" r="2.45"/><circle cx="300.2" cy="326.7" r="2.45"/><circle cx="304.7" cy="326.2" r="2.45"/><circle cx="302.6" cy="330.4" r="2.45"/><circle cx="302.9" cy="332.9" r="2.45"/><circle cx="277.3" cy="349.6" r="2.45"/><circle cx="298.2" cy="352.8" r="2.45"/><circle cx="303.2" cy="353.3" r="2.45"/></g>
<g fill="#ff7f0e" stroke="#fff" stroke-width="0.6"><circle cx="306.2" cy="351.8" r="2.45"/></g>
<g fill="#1f77b4" stroke="#fff" stroke-width="0.6"><circle cx="306.2" cy="357.0" r="2.45"/><circle cx="303.6" cy="358.8" r="2.45"/><circle cx="316.2" cy="361.0" r="2.45"/><circle cx="302.6" cy="364.1" r="2.45"/><circle cx="304.4" cy="368.1" r="2.45"/><circle cx="303.6" cy="371.8" r="2.45"/><circle cx="303.9" cy="374.4" r="2.45"/><circle cx="332.5" cy="360.2" r="2.45"/><circle cx="333.2" cy="323.3" r="2.45"/><circle cx="332.2" cy="326.7" r="2.45"/><circle cx="337.2" cy="325.9" r="2.45"/><circle cx="331.0" cy="330.1" r="2.45"/><circle cx="341.8" cy="331.4" r="2.45"/><circle cx="340.6" cy="334.3" r="2.45"/><circle cx="343.6" cy="337.0" r="2.45"/><circle cx="345.1" cy="340.7" r="2.45"/><circle cx="347.0" cy="343.4" r="2.45"/><circle cx="344.6" cy="345.9" r="2.45"/><circle cx="348.8" cy="352.8" r="2.45"/><circle cx="348.5" cy="356.7" r="2.45"/><circle cx="351.4" cy="358.2" r="2.45"/><circle cx="354.7" cy="359.2" r="2.45"/><circle cx="356.2" cy="361.7" r="2.45"/><circle cx="358.8" cy="359.9" r="2.45"/><circle cx="349.5" cy="361.7" r="2.45"/><circle cx="352.0" cy="364.8" r="2.45"/><circle cx="353.5" cy="367.6" r="2.45"/><circle cx="356.2" cy="370.0" r="2.45"/><circle cx="356.9" cy="374.4" r="2.45"/><circle cx="359.1" cy="380.7" r="2.45"/><circle cx="358.8" cy="383.9" r="2.45"/><circle cx="352.9" cy="382.1" r="2.45"/><circle cx="261.8" cy="367.3" r="2.45"/><circle cx="271.5" cy="369.6" r="2.45"/><circle cx="273.3" cy="375.9" r="2.45"/><circle cx="260.7" cy="378.9" r="2.45"/><circle cx="265.2" cy="380.7" r="2.45"/><circle cx="261.8" cy="384.6" r="2.45"/><circle cx="290.8" cy="377.0" r="2.45"/><circle cx="293.7" cy="374.7" r="2.45"/><circle cx="307.6" cy="380.9" r="2.45"/><circle cx="310.6" cy="380.7" r="2.45"/><circle cx="308.5" cy="384.3" r="2.45"/><circle cx="314.7" cy="387.3" r="2.45"/><circle cx="275.1" cy="386.6" r="2.45"/><circle cx="267.1" cy="395.0" r="2.45"/><circle cx="279.5" cy="393.2" r="2.45"/><circle cx="284.4" cy="398.7" r="2.45"/><circle cx="276.0" cy="400.2" r="2.45"/><circle cx="268.6" cy="401.4" r="2.45"/><circle cx="271.8" cy="405.1" r="2.45"/><circle cx="285.9" cy="407.3" r="2.45"/><circle cx="289.6" cy="411.0" r="2.45"/><circle cx="291.1" cy="410.5" r="2.45"/><circle cx="294.3" cy="409.1" r="2.45"/><circle cx="295.2" cy="410.5" r="2.45"/><circle cx="297.7" cy="411.7" r="2.45"/><circle cx="275.5" cy="415.9" r="2.45"/><circle cx="311.8" cy="415.9" r="2.45"/><circle cx="345.5" cy="413.9" r="2.45"/><circle cx="345.5" cy="419.4" r="2.45"/><circle cx="355.1" cy="402.1" r="2.45"/><circle cx="358.8" cy="401.1" r="2.45"/><circle cx="352.0" cy="409.5" r="2.45"/><circle cx="354.7" cy="408.5" r="2.45"/><circle cx="357.3" cy="408.0" r="2.45"/><circle cx="356.2" cy="410.5" r="2.45"/><circle cx="358.8" cy="407.3" r="2.45"/><circle cx="366.2" cy="336.7" r="2.45"/></g>
<g fill="#ff7f0e" stroke="#fff" stroke-width="0.6"><circle cx="366.7" cy="348.8" r="2.45"/><circle cx="363.0" cy="351.4" r="2.45"/></g>
<g fill="#1f77b4" stroke="#fff" stroke-width="0.6"><circle cx="363.0" cy="357.3" r="2.45"/><circle cx="361.2" cy="362.6" r="2.45"/><circle cx="362.2" cy="375.0" r="2.45"/><circle cx="364.4" cy="379.9" r="2.45"/><circle cx="362.7" cy="381.4" r="2.45"/><circle cx="362.2" cy="393.2" r="2.45"/><circle cx="362.7" cy="397.7" r="2.45"/><circle cx="364.1" cy="401.1" r="2.45"/></g>
<g fill="#ff7f0e" stroke="#fff" stroke-width="0.6"><circle cx="373.8" cy="399.6" r="2.45"/><circle cx="385.4" cy="404.8" r="2.45"/><circle cx="387.8" cy="404.3" r="2.45"/><circle cx="390.3" cy="408.5" r="2.45"/><circle cx="394.0" cy="414.2" r="2.45"/><circle cx="399.2" cy="415.0" r="2.45"/><circle cx="402.2" cy="417.6" r="2.45"/><circle cx="399.9" cy="419.4" r="2.45"/><circle cx="454.4" cy="323.3" r="2.45"/><circle cx="453.5" cy="328.4" r="2.45"/><circle cx="459.1" cy="330.1" r="2.45"/><circle cx="457.3" cy="333.6" r="2.45"/></g>
<g fill="#1f77b4" stroke="#fff" stroke-width="0.6"><circle cx="455.4" cy="337.3" r="2.45"/></g>
<g fill="#ff7f0e" stroke="#fff" stroke-width="0.6"><circle cx="456.4" cy="337.5" r="2.45"/></g>
<g fill="#1f77b4" stroke="#fff" stroke-width="0.6"><circle cx="448.0" cy="340.7" r="2.45"/><circle cx="445.4" cy="346.6" r="2.45"/></g>
<g fill="#ff7f0e" stroke="#fff" stroke-width="0.6"><circle cx="457.6" cy="344.4" r="2.45"/><circle cx="457.3" cy="347.8" r="2.45"/></g>
<g fill="#1f77b4" stroke="#fff" stroke-width="0.6"><circle cx="455.4" cy="411.3" r="2.45"/></g>
<g fill="#ff7f0e" stroke="#fff" stroke-width="0.6"><circle cx="459.4" cy="412.0" r="2.45"/><circle cx="478.5" cy="324.7" r="2.45"/><circle cx="486.6" cy="325.6" r="2.45"/><circle cx="491.4" cy="328.6" r="2.45"/><circle cx="488.8" cy="330.1" r="2.45"/><circle cx="492.2" cy="331.8" r="2.45"/><circle cx="503.2" cy="324.7" r="2.45"/><circle cx="477.0" cy="334.3" r="2.45"/></g>
<g fill="#1f77b4" stroke="#fff" stroke-width="0.6"><circle cx="473.3" cy="339.5" r="2.45"/><circle cx="474.1" cy="341.7" r="2.45"/></g>
<g fill="#ff7f0e" stroke="#fff" stroke-width="0.6"><circle cx="503.6" cy="331.1" r="2.45"/><circle cx="502.2" cy="334.3" r="2.45"/><circle cx="504.1" cy="336.3" r="2.45"/><circle cx="506.6" cy="338.8" r="2.45"/><circle cx="502.9" cy="338.8" r="2.45"/><circle cx="510.3" cy="333.0" r="2.45"/><circle cx="513.6" cy="334.1" r="2.45"/><circle cx="511.8" cy="337.0" r="2.45"/><circle cx="515.0" cy="339.7" r="2.45"/><circle cx="516.2" cy="340.7" r="2.45"/><circle cx="514.0" cy="342.9" r="2.45"/><circle cx="479.5" cy="343.7" r="2.45"/><circle cx="481.2" cy="345.6" r="2.45"/><circle cx="486.2" cy="346.3" r="2.45"/><circle cx="492.2" cy="344.4" r="2.45"/><circle cx="503.2" cy="343.7" r="2.45"/><circle cx="507.3" cy="346.6" r="2.45"/><circle cx="464.1" cy="344.9" r="2.45"/><circle cx="465.2" cy="347.4" r="2.45"/><circle cx="470.7" cy="347.8" r="2.45"/><circle cx="463.0" cy="349.6" r="2.45"/><circle cx="467.4" cy="349.6" r="2.45"/><circle cx="468.6" cy="351.4" r="2.45"/><circle cx="477.0" cy="349.6" r="2.45"/></g>
<g fill="#1f77b4" stroke="#fff" stroke-width="0.6"><circle cx="475.1" cy="352.2" r="2.45"/></g>
<g fill="#ff7f0e" stroke="#fff" stroke-width="0.6"><circle cx="498.8" cy="352.1" r="2.45"/><circle cx="502.2" cy="351.5" r="2.45"/><circle cx="511.0" cy="349.1" r="2.45"/><circle cx="513.6" cy="352.5" r="2.45"/><circle cx="475.5" cy="357.0" r="2.45"/><circle cx="473.6" cy="359.9" r="2.45"/></g>
<g fill="#1f77b4" stroke="#fff" stroke-width="0.6"><circle cx="471.5" cy="363.9" r="2.45"/><circle cx="475.1" cy="363.6" r="2.45"/></g>
<g fill="#ff7f0e" stroke="#fff" stroke-width="0.6"><circle cx="477.8" cy="363.6" r="2.45"/><circle cx="481.4" cy="363.6" r="2.45"/><circle cx="503.3" cy="361.7" r="2.45"/><circle cx="481.4" cy="371.3" r="2.45"/><circle cx="499.6" cy="370.3" r="2.45"/><circle cx="499.9" cy="374.0" r="2.45"/><circle cx="513.0" cy="370.3" r="2.45"/><circle cx="472.6" cy="374.7" r="2.45"/><circle cx="511.0" cy="377.7" r="2.45"/><circle cx="510.3" cy="379.2" r="2.45"/><circle cx="515.0" cy="382.1" r="2.45"/><circle cx="510.7" cy="383.3" r="2.45"/><circle cx="511.0" cy="384.8" r="2.45"/><circle cx="485.6" cy="378.9" r="2.45"/><circle cx="500.2" cy="381.4" r="2.45"/><circle cx="470.1" cy="383.9" r="2.45"/><circle cx="484.9" cy="387.8" r="2.45"/><circle cx="498.8" cy="388.0" r="2.45"/><circle cx="506.6" cy="387.8" r="2.45"/><circle cx="518.4" cy="387.3" r="2.45"/><circle cx="521.8" cy="385.1" r="2.45"/><circle cx="475.1" cy="390.7" r="2.45"/><circle cx="494.8" cy="394.0" r="2.45"/><circle cx="505.1" cy="391.4" r="2.45"/><circle cx="502.9" cy="394.4" r="2.45"/><circle cx="504.7" cy="396.9" r="2.45"/><circle cx="513.6" cy="395.7" r="2.45"/><circle cx="517.4" cy="395.7" r="2.45"/></g>
<g fill="#1f77b4" stroke="#fff" stroke-width="0.6"><circle cx="516.2" cy="398.0" r="2.45"/></g>
<g fill="#ff7f0e" stroke="#fff" stroke-width="0.6"><circle cx="512.1" cy="399.9" r="2.45"/><circle cx="516.2" cy="402.1" r="2.45"/><circle cx="515.5" cy="403.9" r="2.45"/><circle cx="518.4" cy="401.7" r="2.45"/><circle cx="519.9" cy="405.1" r="2.45"/><circle cx="497.0" cy="400.2" r="2.45"/><circle cx="499.2" cy="399.9" r="2.45"/><circle cx="486.6" cy="403.1" r="2.45"/><circle cx="492.5" cy="404.0" r="2.45"/><circle cx="496.2" cy="406.1" r="2.45"/><circle cx="510.0" cy="406.1" r="2.45"/><circle cx="515.9" cy="409.5" r="2.45"/><circle cx="470.1" cy="406.5" r="2.45"/><circle cx="468.1" cy="414.2" r="2.45"/></g>
<g fill="#1f77b4" stroke="#fff" stroke-width="0.6"><circle cx="479.2" cy="415.7" r="2.45"/></g>
<g fill="#ff7f0e" stroke="#fff" stroke-width="0.6"><circle cx="496.2" cy="414.7" r="2.45"/><circle cx="498.8" cy="414.7" r="2.45"/><circle cx="510.6" cy="419.4" r="2.45"/><circle cx="520.4" cy="419.4" r="2.45"/><circle cx="522.1" cy="418.4" r="2.45"/></g>
<g fill="#1f77b4" stroke="#fff" stroke-width="0.6"><circle cx="164.7" cy="425.2" r="2.45"/><circle cx="171.8" cy="422.7" r="2.45"/><circle cx="196.2" cy="421.8" r="2.45"/><circle cx="203.6" cy="421.5" r="2.45"/><circle cx="227.3" cy="422.2" r="2.45"/><circle cx="251.4" cy="421.8" r="2.45"/><circle cx="177.0" cy="428.9" r="2.45"/><circle cx="181.9" cy="428.9" r="2.45"/><circle cx="181.9" cy="431.1" r="2.45"/><circle cx="195.2" cy="426.7" r="2.45"/><circle cx="206.2" cy="426.7" r="2.45"/><circle cx="193.7" cy="433.3" r="2.45"/><circle cx="201.1" cy="436.3" r="2.45"/><circle cx="211.5" cy="431.5" r="2.45"/><circle cx="210.0" cy="434.1" r="2.45"/><circle cx="210.0" cy="437.0" r="2.45"/><circle cx="208.8" cy="441.4" r="2.45"/><circle cx="213.6" cy="442.9" r="2.45"/><circle cx="217.7" cy="443.4" r="2.45"/><circle cx="220.7" cy="442.9" r="2.45"/><circle cx="219.9" cy="445.1" r="2.45"/><circle cx="225.1" cy="442.5" r="2.45"/><circle cx="234.0" cy="433.0" r="2.45"/><circle cx="235.7" cy="436.3" r="2.45"/><circle cx="235.7" cy="441.0" r="2.45"/><circle cx="247.0" cy="427.7" r="2.45"/><circle cx="257.3" cy="430.1" r="2.45"/><circle cx="241.7" cy="436.3" r="2.45"/><circle cx="245.1" cy="434.1" r="2.45"/><circle cx="249.9" cy="434.3" r="2.45"/><circle cx="250.2" cy="435.5" r="2.45"/><circle cx="245.5" cy="438.0" r="2.45"/><circle cx="245.8" cy="440.0" r="2.45"/><circle cx="251.7" cy="440.4" r="2.45"/><circle cx="174.1" cy="445.4" r="2.45"/><circle cx="183.4" cy="443.2" r="2.45"/><circle cx="192.2" cy="438.9" r="2.45"/><circle cx="194.3" cy="441.9" r="2.45"/><circle cx="193.7" cy="444.4" r="2.45"/><circle cx="202.2" cy="446.2" r="2.45"/><circle cx="193.3" cy="449.6" r="2.45"/><circle cx="196.2" cy="448.1" r="2.45"/><circle cx="198.2" cy="451.5" r="2.45"/><circle cx="201.1" cy="452.2" r="2.45"/><circle cx="187.7" cy="449.3" r="2.45"/><circle cx="182.2" cy="453.3" r="2.45"/><circle cx="189.6" cy="455.5" r="2.45"/><circle cx="215.5" cy="450.0" r="2.45"/><circle cx="211.5" cy="454.0" r="2.45"/><circle cx="211.0" cy="457.7" r="2.45"/><circle cx="223.9" cy="450.8" r="2.45"/><circle cx="222.9" cy="454.3" r="2.45"/><circle cx="230.3" cy="450.6" r="2.45"/><circle cx="228.3" cy="454.3" r="2.45"/><circle cx="232.5" cy="455.5" r="2.45"/><circle cx="236.2" cy="457.7" r="2.45"/><circle cx="247.6" cy="446.9" r="2.45"/><circle cx="250.5" cy="446.6" r="2.45"/><circle cx="252.5" cy="450.8" r="2.45"/><circle cx="258.4" cy="450.3" r="2.45"/><circle cx="251.7" cy="455.5" r="2.45"/><circle cx="255.9" cy="455.8" r="2.45"/><circle cx="240.6" cy="459.2" r="2.45"/><circle cx="244.3" cy="459.6" r="2.45"/><circle cx="247.3" cy="458.8" r="2.45"/><circle cx="251.7" cy="459.6" r="2.45"/><circle cx="256.2" cy="461.7" r="2.45"/><circle cx="258.4" cy="459.6" r="2.45"/><circle cx="204.1" cy="459.9" r="2.45"/><circle cx="206.2" cy="462.9" r="2.45"/><circle cx="205.9" cy="467.3" r="2.45"/><circle cx="211.0" cy="466.6" r="2.45"/><circle cx="214.4" cy="463.6" r="2.45"/><circle cx="195.5" cy="466.2" r="2.45"/><circle cx="208.1" cy="471.8" r="2.45"/><circle cx="216.5" cy="471.8" r="2.45"/><circle cx="211.8" cy="476.2" r="2.45"/><circle cx="244.6" cy="464.7" r="2.45"/><circle cx="248.0" cy="468.1" r="2.45"/><circle cx="249.8" cy="464.4" r="2.45"/><circle cx="253.5" cy="467.3" r="2.45"/><circle cx="244.6" cy="475.8" r="2.45"/><circle cx="248.8" cy="479.5" r="2.45"/><circle cx="259.1" cy="475.0" r="2.45"/><circle cx="225.5" cy="483.6" r="2.45"/><circle cx="238.4" cy="483.6" r="2.45"/><circle cx="213.0" cy="488.3" r="2.45"/><circle cx="216.2" cy="489.2" r="2.45"/><circle cx="218.4" cy="488.8" r="2.45"/><circle cx="239.1" cy="488.3" r="2.45"/><circle cx="245.5" cy="487.3" r="2.45"/><circle cx="248.5" cy="489.1" r="2.45"/><circle cx="243.6" cy="495.7" r="2.45"/><circle cx="241.1" cy="498.1" r="2.45"/><circle cx="243.6" cy="499.9" r="2.45"/><circle cx="247.3" cy="499.1" r="2.45"/><circle cx="244.6" cy="503.6" r="2.45"/><circle cx="248.5" cy="505.1" r="2.45"/><circle cx="243.6" cy="508.5" r="2.45"/><circle cx="247.3" cy="508.0" r="2.45"/><circle cx="246.5" cy="511.7" r="2.45"/><circle cx="252.0" cy="510.2" r="2.45"/><circle cx="253.5" cy="513.5" r="2.45"/><circle cx="249.5" cy="515.0" r="2.45"/><circle cx="258.8" cy="499.9" r="2.45"/><circle cx="258.4" cy="507.0" r="2.45"/><circle cx="265.2" cy="422.7" r="2.45"/><circle cx="268.6" cy="427.1" r="2.45"/><circle cx="274.8" cy="423.3" r="2.45"/><circle cx="277.8" cy="427.1" r="2.45"/><circle cx="290.3" cy="424.4" r="2.45"/><circle cx="302.2" cy="426.2" r="2.45"/><circle cx="301.7" cy="428.9" r="2.45"/><circle cx="312.1" cy="423.3" r="2.45"/><circle cx="327.3" cy="426.2" r="2.45"/><circle cx="332.0" cy="428.6" r="2.45"/><circle cx="345.8" cy="428.9" r="2.45"/><circle cx="330.0" cy="433.0" r="2.45"/><circle cx="342.8" cy="434.1" r="2.45"/><circle cx="338.4" cy="437.5" r="2.45"/><circle cx="338.0" cy="445.6" r="2.45"/><circle cx="264.1" cy="431.1" r="2.45"/><circle cx="267.4" cy="434.3" r="2.45"/><circle cx="261.8" cy="436.0" r="2.45"/><circle cx="291.8" cy="435.2" r="2.45"/><circle cx="295.1" cy="434.1" r="2.45"/><circle cx="306.2" cy="432.1" r="2.45"/><circle cx="311.0" cy="434.3" r="2.45"/><circle cx="314.7" cy="435.5" r="2.45"/><circle cx="304.4" cy="437.0" r="2.45"/><circle cx="279.2" cy="438.5" r="2.45"/><circle cx="282.9" cy="440.7" r="2.45"/><circle cx="291.1" cy="438.5" r="2.45"/><circle cx="290.3" cy="441.4" r="2.45"/><circle cx="293.3" cy="442.5" r="2.45"/><circle cx="305.9" cy="443.7" r="2.45"/><circle cx="274.1" cy="444.9" r="2.45"/><circle cx="284.0" cy="444.9" r="2.45"/><circle cx="287.4" cy="446.2" r="2.45"/><circle cx="289.6" cy="448.1" r="2.45"/><circle cx="290.3" cy="450.3" r="2.45"/><circle cx="301.4" cy="446.9" r="2.45"/><circle cx="299.6" cy="449.6" r="2.45"/><circle cx="265.9" cy="448.8" r="2.45"/><circle cx="267.7" cy="451.4" r="2.45"/><circle cx="282.2" cy="452.1" r="2.45"/><circle cx="283.4" cy="454.8" r="2.45"/><circle cx="266.7" cy="455.5" r="2.45"/><circle cx="277.0" cy="455.1" r="2.45"/><circle cx="325.1" cy="448.4" r="2.45"/><circle cx="322.6" cy="452.2" r="2.45"/><circle cx="327.3" cy="455.2" r="2.45"/><circle cx="327.8" cy="461.1" r="2.45"/><circle cx="313.0" cy="455.8" r="2.45"/><circle cx="316.5" cy="457.0" r="2.45"/><circle cx="301.9" cy="456.7" r="2.45"/><circle cx="299.6" cy="458.8" r="2.45"/><circle cx="301.7" cy="462.9" r="2.45"/><circle cx="298.2" cy="462.2" r="2.45"/><circle cx="294.3" cy="458.8" r="2.45"/><circle cx="288.1" cy="460.7" r="2.45"/><circle cx="281.9" cy="458.8" r="2.45"/><circle cx="278.0" cy="459.6" r="2.45"/><circle cx="272.1" cy="458.2" r="2.45"/><circle cx="268.9" cy="461.1" r="2.45"/><circle cx="268.1" cy="462.9" r="2.45"/><circle cx="264.7" cy="459.9" r="2.45"/><circle cx="261.2" cy="461.7" r="2.45"/><circle cx="311.5" cy="465.1" r="2.45"/><circle cx="284.9" cy="466.2" r="2.45"/><circle cx="290.8" cy="470.6" r="2.45"/><circle cx="293.3" cy="470.3" r="2.45"/><circle cx="298.2" cy="471.5" r="2.45"/><circle cx="301.4" cy="472.1" r="2.45"/><circle cx="329.2" cy="469.6" r="2.45"/><circle cx="329.2" cy="474.7" r="2.45"/><circle cx="273.3" cy="475.9" r="2.45"/><circle cx="305.6" cy="478.9" r="2.45"/><circle cx="286.6" cy="482.4" r="2.45"/><circle cx="294.0" cy="485.8" r="2.45"/><circle cx="295.8" cy="486.9" r="2.45"/><circle cx="307.6" cy="484.3" r="2.45"/><circle cx="305.9" cy="488.0" r="2.45"/><circle cx="307.0" cy="489.5" r="2.45"/><circle cx="311.0" cy="488.0" r="2.45"/><circle cx="315.5" cy="485.8" r="2.45"/><circle cx="317.7" cy="488.0" r="2.45"/><circle cx="327.3" cy="485.8" r="2.45"/><circle cx="335.4" cy="484.3" r="2.45"/><circle cx="339.1" cy="475.9" r="2.45"/><circle cx="339.9" cy="479.9" r="2.45"/><circle cx="341.1" cy="482.9" r="2.45"/></g>
<g fill="#ff7f0e" stroke="#fff" stroke-width="0.6"><circle cx="336.9" cy="489.2" r="2.45"/></g>
<g fill="#1f77b4" stroke="#fff" stroke-width="0.6"><circle cx="285.1" cy="489.5" r="2.45"/><circle cx="292.8" cy="490.7" r="2.45"/><circle cx="291.4" cy="492.5" r="2.45"/><circle cx="303.6" cy="491.7" r="2.45"/><circle cx="306.6" cy="493.2" r="2.45"/><circle cx="304.8" cy="490.7" r="2.45"/><circle cx="347.0" cy="492.8" r="2.45"/><circle cx="327.8" cy="494.0" r="2.45"/><circle cx="330.7" cy="493.2" r="2.45"/><circle cx="326.6" cy="497.7" r="2.45"/><circle cx="322.1" cy="496.5" r="2.45"/></g>
<g fill="#ff7f0e" stroke="#fff" stroke-width="0.6"><circle cx="332.5" cy="495.4" r="2.45"/></g>
<g fill="#1f77b4" stroke="#fff" stroke-width="0.6"><circle cx="342.1" cy="498.4" r="2.45"/><circle cx="342.8" cy="501.4" r="2.45"/><circle cx="352.9" cy="499.1" r="2.45"/><circle cx="356.2" cy="496.9" r="2.45"/><circle cx="265.6" cy="494.7" r="2.45"/><circle cx="268.6" cy="498.1" r="2.45"/><circle cx="264.1" cy="502.8" r="2.45"/><circle cx="284.0" cy="497.2" r="2.45"/><circle cx="302.9" cy="499.9" r="2.45"/><circle cx="300.7" cy="502.1" r="2.45"/><circle cx="293.3" cy="504.6" r="2.45"/><circle cx="297.0" cy="505.1" r="2.45"/><circle cx="302.2" cy="505.8" r="2.45"/><circle cx="295.5" cy="507.6" r="2.45"/><circle cx="308.8" cy="504.0" r="2.45"/><circle cx="308.8" cy="509.1" r="2.45"/><circle cx="330.7" cy="504.6" r="2.45"/><circle cx="333.7" cy="504.6" r="2.45"/><circle cx="351.4" cy="509.9" r="2.45"/><circle cx="354.7" cy="509.9" r="2.45"/><circle cx="358.8" cy="509.9" r="2.45"/><circle cx="292.8" cy="511.4" r="2.45"/><circle cx="299.6" cy="513.2" r="2.45"/><circle cx="306.6" cy="514.2" r="2.45"/><circle cx="277.5" cy="515.9" r="2.45"/><circle cx="281.4" cy="514.7" r="2.45"/><circle cx="261.2" cy="515.1" r="2.45"/><circle cx="293.3" cy="515.4" r="2.45"/><circle cx="295.5" cy="516.9" r="2.45"/><circle cx="299.6" cy="517.6" r="2.45"/><circle cx="290.3" cy="518.4" r="2.45"/><circle cx="322.4" cy="514.2" r="2.45"/><circle cx="333.2" cy="512.8" r="2.45"/><circle cx="331.0" cy="515.9" r="2.45"/><circle cx="339.9" cy="517.6" r="2.45"/><circle cx="348.5" cy="518.1" r="2.45"/></g>
<g fill="#ff7f0e" stroke="#fff" stroke-width="0.6"><circle cx="410.7" cy="438.8" r="2.45"/><circle cx="409.9" cy="444.1" r="2.45"/></g>
<g fill="#1f77b4" stroke="#fff" stroke-width="0.6"><circle cx="407.0" cy="455.5" r="2.45"/></g>
<g fill="#ff7f0e" stroke="#fff" stroke-width="0.6"><circle cx="403.6" cy="457.7" r="2.45"/><circle cx="401.9" cy="460.2" r="2.45"/></g>
<g fill="#1f77b4" stroke="#fff" stroke-width="0.6"><circle cx="450.7" cy="435.8" r="2.45"/><circle cx="459.1" cy="462.2" r="2.45"/><circle cx="447.0" cy="476.7" r="2.45"/><circle cx="398.2" cy="477.2" r="2.45"/><circle cx="399.9" cy="485.4" r="2.45"/><circle cx="371.5" cy="488.5" r="2.45"/><circle cx="378.9" cy="494.0" r="2.45"/><circle cx="384.0" cy="498.0" r="2.45"/><circle cx="386.6" cy="496.9" r="2.45"/><circle cx="394.0" cy="493.2" r="2.45"/><circle cx="393.7" cy="495.4" r="2.45"/><circle cx="391.8" cy="500.2" r="2.45"/><circle cx="401.4" cy="495.7" r="2.45"/><circle cx="406.2" cy="493.5" r="2.45"/><circle cx="409.9" cy="492.5" r="2.45"/><circle cx="414.0" cy="492.9" r="2.45"/><circle cx="415.0" cy="497.4" r="2.45"/><circle cx="418.9" cy="498.7" r="2.45"/><circle cx="412.5" cy="500.6" r="2.45"/><circle cx="415.5" cy="501.4" r="2.45"/><circle cx="416.5" cy="503.1" r="2.45"/><circle cx="365.2" cy="507.0" r="2.45"/><circle cx="373.0" cy="512.0" r="2.45"/><circle cx="368.1" cy="515.7" r="2.45"/><circle cx="377.0" cy="517.3" r="2.45"/><circle cx="381.4" cy="519.4" r="2.45"/><circle cx="391.4" cy="511.7" r="2.45"/><circle cx="393.7" cy="514.4" r="2.45"/><circle cx="395.5" cy="517.6" r="2.45"/><circle cx="399.9" cy="515.0" r="2.45"/><circle cx="402.9" cy="514.4" r="2.45"/><circle cx="400.2" cy="518.8" r="2.45"/><circle cx="409.6" cy="511.4" r="2.45"/><circle cx="414.7" cy="515.0" r="2.45"/><circle cx="409.3" cy="516.9" r="2.45"/><circle cx="459.1" cy="515.9" r="2.45"/></g>
<g fill="#ff7f0e" stroke="#fff" stroke-width="0.6"><circle cx="512.5" cy="422.7" r="2.45"/><circle cx="508.5" cy="425.2" r="2.45"/><circle cx="520.7" cy="429.2" r="2.45"/><circle cx="518.0" cy="433.0" r="2.45"/><circle cx="517.7" cy="438.5" r="2.45"/><circle cx="510.0" cy="438.5" r="2.45"/><circle cx="501.7" cy="434.8" r="2.45"/><circle cx="522.1" cy="442.2" r="2.45"/><circle cx="522.9" cy="445.9" r="2.45"/><circle cx="520.7" cy="448.8" r="2.45"/><circle cx="505.1" cy="447.1" r="2.45"/></g>
<g fill="#1f77b4" stroke="#fff" stroke-width="0.6"><circle cx="466.7" cy="426.7" r="2.45"/></g>
<g fill="#ff7f0e" stroke="#fff" stroke-width="0.6"><circle cx="475.5" cy="425.2" r="2.45"/><circle cx="476.6" cy="426.2" r="2.45"/></g>
<g fill="#1f77b4" stroke="#fff" stroke-width="0.6"><circle cx="498.2" cy="443.7" r="2.45"/></g>
<g fill="#ff7f0e" stroke="#fff" stroke-width="0.6"><circle cx="499.2" cy="446.6" r="2.45"/></g>
<g fill="#1f77b4" stroke="#fff" stroke-width="0.6"><circle cx="496.7" cy="450.6" r="2.45"/><circle cx="493.7" cy="455.5" r="2.45"/><circle cx="464.7" cy="447.8" r="2.45"/><circle cx="469.6" cy="452.5" r="2.45"/><circle cx="470.1" cy="455.5" r="2.45"/></g>
<g fill="#ff7f0e" stroke="#fff" stroke-width="0.6"><circle cx="477.0" cy="451.1" r="2.45"/><circle cx="478.0" cy="454.3" r="2.45"/><circle cx="473.6" cy="454.8" r="2.45"/><circle cx="475.5" cy="458.8" r="2.45"/></g>
<g fill="#1f77b4" stroke="#fff" stroke-width="0.6"><circle cx="468.1" cy="459.2" r="2.45"/></g>
<g fill="#ff7f0e" stroke="#fff" stroke-width="0.6"><circle cx="464.4" cy="464.4" r="2.45"/><circle cx="465.2" cy="462.9" r="2.45"/></g>
<g fill="#1f77b4" stroke="#fff" stroke-width="0.6"><circle cx="468.4" cy="464.4" r="2.45"/></g>
<g fill="#ff7f0e" stroke="#fff" stroke-width="0.6"><circle cx="472.6" cy="464.4" r="2.45"/><circle cx="473.0" cy="467.6" r="2.45"/><circle cx="489.6" cy="458.8" r="2.45"/><circle cx="491.8" cy="460.7" r="2.45"/></g>
<g fill="#1f77b4" stroke="#fff" stroke-width="0.6"><circle cx="495.8" cy="459.6" r="2.45"/><circle cx="498.2" cy="462.9" r="2.45"/></g>
<g fill="#ff7f0e" stroke="#fff" stroke-width="0.6"><circle cx="496.7" cy="465.1" r="2.45"/><circle cx="491.1" cy="464.4" r="2.45"/><circle cx="487.8" cy="464.4" r="2.45"/><circle cx="490.8" cy="467.0" r="2.45"/><circle cx="484.9" cy="467.6" r="2.45"/><circle cx="487.4" cy="469.1" r="2.45"/><circle cx="495.5" cy="470.3" r="2.45"/><circle cx="499.2" cy="469.6" r="2.45"/><circle cx="501.1" cy="471.8" r="2.45"/><circle cx="497.0" cy="476.2" r="2.45"/><circle cx="478.5" cy="475.5" r="2.45"/><circle cx="510.7" cy="464.4" r="2.45"/><circle cx="514.0" cy="468.4" r="2.45"/><circle cx="518.4" cy="457.7" r="2.45"/><circle cx="512.1" cy="481.8" r="2.45"/><circle cx="510.0" cy="493.5" r="2.45"/><circle cx="513.0" cy="496.5" r="2.45"/><circle cx="523.3" cy="494.0" r="2.45"/></g>
<g fill="#1f77b4" stroke="#fff" stroke-width="0.6"><circle cx="524.8" cy="493.2" r="2.45"/></g>
<g fill="#ff7f0e" stroke="#fff" stroke-width="0.6"><circle cx="521.8" cy="495.0" r="2.45"/><circle cx="501.4" cy="495.7" r="2.45"/><circle cx="497.7" cy="498.1" r="2.45"/><circle cx="497.0" cy="501.1" r="2.45"/><circle cx="494.3" cy="504.0" r="2.45"/><circle cx="491.8" cy="507.3" r="2.45"/><circle cx="492.8" cy="512.9" r="2.45"/><circle cx="512.5" cy="502.8" r="2.45"/><circle cx="516.5" cy="500.6" r="2.45"/><circle cx="519.5" cy="501.1" r="2.45"/><circle cx="517.4" cy="505.5" r="2.45"/><circle cx="523.3" cy="504.8" r="2.45"/><circle cx="525.8" cy="502.1" r="2.45"/><circle cx="509.6" cy="509.8" r="2.45"/><circle cx="513.3" cy="509.9" r="2.45"/><circle cx="515.0" cy="511.4" r="2.45"/><circle cx="518.1" cy="509.1" r="2.45"/><circle cx="528.0" cy="508.8" r="2.45"/><circle cx="532.8" cy="512.0" r="2.45"/><circle cx="522.9" cy="514.2" r="2.45"/><circle cx="525.1" cy="516.2" r="2.45"/><circle cx="518.9" cy="517.6" r="2.45"/><circle cx="534.0" cy="517.3" r="2.45"/></g>
<g fill="#1f77b4" stroke="#fff" stroke-width="0.6"><circle cx="467.1" cy="517.2" r="2.45"/></g>
<g fill="#ff7f0e" stroke="#fff" stroke-width="0.6"><circle cx="475.5" cy="519.4" r="2.45"/><circle cx="491.1" cy="519.4" r="2.45"/></g>
<g fill="#1f77b4" stroke="#fff" stroke-width="0.6"><circle cx="377.1" cy="521.9" r="2.45"/><circle cx="370.9" cy="522.2" r="2.45"/><circle cx="400.1" cy="521.9" r="2.45"/><circle cx="411.4" cy="525.1" r="2.45"/><circle cx="425.0" cy="528.2" r="2.45"/></g>
<g fill="#ff7f0e" stroke="#fff" stroke-width="0.6"><circle cx="426.9" cy="530.2" r="2.45"/></g>
<g fill="#1f77b4" stroke="#fff" stroke-width="0.6"><circle cx="436.6" cy="529.9" r="2.45"/><circle cx="443.5" cy="528.8" r="2.45"/><circle cx="446.4" cy="532.8" r="2.45"/><circle cx="450.8" cy="533.6" r="2.45"/></g>
<g fill="#ff7f0e" stroke="#fff" stroke-width="0.6"><circle cx="478.5" cy="525.1" r="2.45"/></g>
<g fill="#1f77b4" stroke="#fff" stroke-width="0.6"><circle cx="463.0" cy="532.8" r="2.45"/><circle cx="465.2" cy="534.3" r="2.45"/><circle cx="473.3" cy="532.2" r="2.45"/><circle cx="476.3" cy="530.3" r="2.45"/></g>
<g fill="#ff7f0e" stroke="#fff" stroke-width="0.6"><circle cx="483.7" cy="531.1" r="2.45"/></g>
<g fill="#1f77b4" stroke="#fff" stroke-width="0.6"><circle cx="484.9" cy="524.4" r="2.45"/></g>
<g fill="#ff7f0e" stroke="#fff" stroke-width="0.6"><circle cx="487.8" cy="523.2" r="2.45"/><circle cx="485.9" cy="527.8" r="2.45"/><circle cx="489.3" cy="526.9" r="2.45"/></g>
<g fill="#1f77b4" stroke="#fff" stroke-width="0.6"><circle cx="488.8" cy="530.8" r="2.45"/></g>
<g fill="#ff7f0e" stroke="#fff" stroke-width="0.6"><circle cx="528.8" cy="525.9" r="2.45"/><circle cx="529.8" cy="521.2" r="2.45"/><circle cx="532.5" cy="524.9" r="2.45"/><circle cx="535.1" cy="527.4" r="2.45"/><circle cx="535.4" cy="529.6" r="2.45"/><circle cx="537.2" cy="524.4" r="2.45"/><circle cx="540.6" cy="524.9" r="2.45"/><circle cx="542.5" cy="523.7" r="2.45"/><circle cx="541.1" cy="527.4" r="2.45"/><circle cx="544.0" cy="524.9" r="2.45"/></g>
<g fill="#1f77b4" stroke="#fff" stroke-width="0.6"><circle cx="545.1" cy="540.2" r="2.45"/></g>
<g fill="#ff7f0e" stroke="#fff" stroke-width="0.6"><circle cx="546.1" cy="541.9" r="2.45"/><circle cx="555.1" cy="539.6" r="2.45"/><circle cx="559.4" cy="551.8" r="2.45"/><circle cx="571.8" cy="557.0" r="2.45"/><circle cx="577.5" cy="557.3" r="2.45"/><circle cx="568.9" cy="561.4" r="2.45"/><circle cx="574.1" cy="559.9" r="2.45"/><circle cx="576.3" cy="563.6" r="2.45"/><circle cx="582.9" cy="559.6" r="2.45"/><circle cx="585.4" cy="560.7" r="2.45"/><circle cx="588.1" cy="562.2" r="2.45"/><circle cx="590.3" cy="564.4" r="2.45"/><circle cx="581.4" cy="566.2" r="2.45"/><circle cx="579.2" cy="568.1" r="2.45"/><circle cx="582.5" cy="570.0" r="2.45"/><circle cx="586.3" cy="569.6" r="2.45"/><circle cx="589.3" cy="572.5" r="2.45"/><circle cx="594.3" cy="570.7" r="2.45"/><circle cx="599.9" cy="571.8" r="2.45"/><circle cx="601.7" cy="573.6" r="2.45"/><circle cx="605.1" cy="574.4" r="2.45"/></g>
<g fill="#1f77b4" stroke="#fff" stroke-width="0.6"><circle cx="596.7" cy="578.0" r="2.45"/></g>
<g fill="#ff7f0e" stroke="#fff" stroke-width="0.6"><circle cx="594.0" cy="575.8" r="2.45"/><circle cx="598.2" cy="576.7" r="2.45"/><circle cx="602.9" cy="576.2" r="2.45"/><circle cx="600.2" cy="579.2" r="2.45"/><circle cx="605.1" cy="579.9" r="2.45"/><circle cx="608.8" cy="579.9" r="2.45"/><circle cx="611.8" cy="578.0" r="2.45"/><circle cx="612.5" cy="579.9" r="2.45"/></g>
<g fill="#1f77b4" stroke="#fff" stroke-width="0.6"><circle cx="615.5" cy="578.9" r="2.45"/><circle cx="615.9" cy="581.4" r="2.45"/><circle cx="620.9" cy="582.1" r="2.45"/><circle cx="623.3" cy="583.9" r="2.45"/><circle cx="625.1" cy="585.1" r="2.45"/></g>
<g fill="#ff7f0e" stroke="#fff" stroke-width="0.6"><circle cx="628.3" cy="582.4" r="2.45"/><circle cx="630.7" cy="584.3" r="2.45"/><circle cx="633.2" cy="586.6" r="2.45"/><circle cx="644.0" cy="582.9" r="2.45"/><circle cx="639.1" cy="588.0" r="2.45"/><circle cx="642.5" cy="588.3" r="2.45"/><circle cx="645.1" cy="589.5" r="2.45"/><circle cx="644.0" cy="587.8" r="2.45"/><circle cx="648.8" cy="587.8" r="2.45"/></g>
<g fill="#1f77b4" stroke="#fff" stroke-width="0.6"><circle cx="650.2" cy="594.0" r="2.45"/></g>
<g fill="#ff7f0e" stroke="#fff" stroke-width="0.6"><circle cx="652.0" cy="590.3" r="2.45"/><circle cx="654.4" cy="591.0" r="2.45"/><circle cx="649.5" cy="592.2" r="2.45"/><circle cx="651.7" cy="593.7" r="2.45"/></g>
<path d="M69.6 2.55V622.3M155.4 2.55V622.3M241.1 2.55V622.3M326.9 2.55V622.3M412.7 2.55V622.3M498.5 2.55V622.3M584.2 2.55V622.3M670.0 2.55V622.3M58.65 559.2H682.5M58.65 457.5H682.5M58.65 355.7H682.5M58.65 253.9H682.5M58.65 152.2H682.5M58.65 50.4H682.5" stroke="#b0b0b0" stroke-width="1.1" fill="none"/>
<path d="M69.6 622.3v4.8M155.4 622.3v4.8M241.1 622.3v4.8M326.9 622.3v4.8M412.7 622.3v4.8M498.5 622.3v4.8M584.2 622.3v4.8M670.0 622.3v4.8M58.65 559.2h-4.8M58.65 457.5h-4.8M58.65 355.7h-4.8M58.65 253.9h-4.8M58.65 152.2h-4.8M58.65 50.4h-4.8" stroke="#000" stroke-width="1.1" fill="none"/>
<rect x="58.65" y="2.55" width="623.85" height="619.75" fill="none" stroke="#000" stroke-width="1.1"/>
<rect x="61.10" y="637.8" width="8.9" height="1.1" fill="#000"/>
<text x="71.10" y="642.8" font-size="14.6">4</text>
<rect x="146.87" y="637.8" width="8.9" height="1.1" fill="#000"/>
<text x="156.87" y="642.8" font-size="14.6">2</text>
<text x="241.54" y="642.8" font-size="14.6" text-anchor="middle">0</text>
<text x="327.31" y="642.8" font-size="14.6" text-anchor="middle">2</text>
<text x="413.09" y="642.8" font-size="14.6" text-anchor="middle">4</text>
<text x="498.86" y="642.8" font-size="14.6" text-anchor="middle">6</text>
<text x="584.63" y="642.8" font-size="14.6" text-anchor="middle">8</text>
<text x="670.40" y="642.8" font-size="14.6" text-anchor="middle">10</text>
<rect x="29.6" y="559.55" width="8.9" height="1.1" fill="#000"/>
<text x="48.4" y="564.75" font-size="14.6" text-anchor="end">2</text>
<text x="48.4" y="462.98" font-size="14.6" text-anchor="end">0</text>
<text x="48.4" y="361.21" font-size="14.6" text-anchor="end">2</text>
<text x="48.4" y="259.44" font-size="14.6" text-anchor="end">4</text>
<text x="48.4" y="157.67" font-size="14.6" text-anchor="end">6</text>
<text x="48.4" y="55.90" font-size="14.6" text-anchor="end">8</text>
<text x="370.9" y="668.4" font-size="23" text-anchor="middle">UMAP_x</text>
<text transform="translate(19.6 313.8) rotate(-90)" font-size="23" text-anchor="middle">UMAP_y</text>
<rect x="616.3" y="9.6" width="59.1" height="45.3" rx="2.8" fill="#fff" fill-opacity="0.8" stroke="#cccccc" stroke-width="1.1"/>
<circle cx="636" cy="22.8" r="5.1" fill="#1f77b4" stroke="#fff" stroke-width="0.6"/>
<circle cx="636" cy="43.4" r="5.1" fill="#ff7f0e" stroke="#fff" stroke-width="0.6"/>
<text x="665.6" y="25.9" font-size="14" text-anchor="middle">0</text>
<text x="665.6" y="46.7" font-size="14" text-anchor="middle">1</text>
</svg></body></html>
